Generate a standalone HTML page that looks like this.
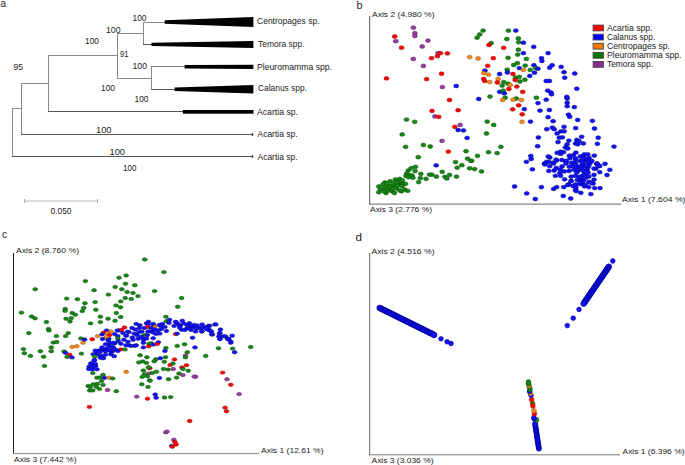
<!DOCTYPE html>
<html><head><meta charset="utf-8">
<style>
html,body{margin:0;padding:0;background:#fff;width:685px;height:465px;overflow:hidden}
svg{display:block}
text{font-family:"Liberation Sans",sans-serif;fill:#222}
.t8{font-size:8px}
.ax{font-size:7px}
.pl{font-size:11px;fill:#111}
.br{stroke:#888;stroke-width:1;fill:none}
</style></head><body>
<svg width="685" height="465" viewBox="0 0 685 465">
<line x1="12.5" y1="108" x2="12.5" y2="157.5" stroke="#8a8a8a" stroke-width="1"/>
<line x1="12" y1="108.5" x2="21.5" y2="108.5" stroke="#8a8a8a" stroke-width="1"/>
<line x1="12" y1="156.5" x2="252" y2="156.5" stroke="#555" stroke-width="1"/>
<line x1="21.5" y1="83" x2="21.5" y2="135" stroke="#8a8a8a" stroke-width="1"/>
<line x1="21" y1="83.5" x2="48.5" y2="83.5" stroke="#8a8a8a" stroke-width="1"/>
<line x1="21" y1="134.5" x2="252" y2="134.5" stroke="#555" stroke-width="1"/>
<line x1="48.5" y1="55" x2="48.5" y2="112" stroke="#8a8a8a" stroke-width="1"/>
<line x1="48" y1="55.5" x2="117.5" y2="55.5" stroke="#8a8a8a" stroke-width="1"/>
<line x1="48" y1="111.5" x2="183" y2="111.5" stroke="#555" stroke-width="1"/>
<line x1="117.5" y1="33" x2="117.5" y2="79" stroke="#8a8a8a" stroke-width="1"/>
<line x1="117" y1="33.5" x2="143.5" y2="33.5" stroke="#8a8a8a" stroke-width="1"/>
<line x1="117" y1="78.5" x2="151.5" y2="78.5" stroke="#8a8a8a" stroke-width="1"/>
<line x1="143.5" y1="22" x2="143.5" y2="45" stroke="#8a8a8a" stroke-width="1"/>
<line x1="143" y1="22.5" x2="165" y2="22.5" stroke="#8a8a8a" stroke-width="1"/>
<line x1="143" y1="44.5" x2="152" y2="44.5" stroke="#555" stroke-width="1"/>
<line x1="151.5" y1="66" x2="151.5" y2="90" stroke="#8a8a8a" stroke-width="1"/>
<line x1="151" y1="66.5" x2="185" y2="66.5" stroke="#8a8a8a" stroke-width="1"/>
<line x1="151" y1="89.5" x2="175" y2="89.5" stroke="#555" stroke-width="1"/>
<polygon points="164.7,20.3 253.4,17 253.4,27 164.7,23.8" fill="#000"/>
<polygon points="151.5,42.7 253.4,41 253.4,47.9 151.5,46" fill="#000"/>
<polygon points="184.6,64.9 253.4,64.8 253.4,69 184.6,68.6" fill="#000"/>
<polygon points="174.6,87.5 253.4,85 253.4,93.5 174.6,91.1" fill="#000"/>
<rect x="182.8" y="110" width="70.7" height="3.7" fill="#000"/>
<rect x="251.8" y="133" width="1.4" height="3" fill="#444"/>
<rect x="251.8" y="155" width="1.4" height="3" fill="#444"/>
<line x1="24.5" y1="201" x2="97.5" y2="201" stroke="#cfcfcf" stroke-width="1.5"/>
<line x1="24.5" y1="199" x2="24.5" y2="203" stroke="#aaa" stroke-width="1"/>
<line x1="97.5" y1="199" x2="97.5" y2="203" stroke="#aaa" stroke-width="1"/>
<line x1="369.7" y1="16" x2="369.7" y2="204.6" stroke="#555" stroke-width="1"/>
<line x1="369.2" y1="204.1" x2="621.5" y2="204.1" stroke="#666" stroke-width="1"/>
<line x1="13.5" y1="253" x2="13.5" y2="454.1" stroke="#222" stroke-width="1"/>
<line x1="13.0" y1="453.6" x2="259.4" y2="453.6" stroke="#888" stroke-width="1"/>
<line x1="369.7" y1="253" x2="369.7" y2="455.3" stroke="#666" stroke-width="1"/>
<line x1="369.2" y1="454.8" x2="620" y2="454.8" stroke="#777" stroke-width="1"/>
<rect x="593.1" y="25.10" width="10.3" height="5.8" fill="#ff0000" stroke="#444" stroke-width="0.9"/>
<rect x="593.1" y="34.20" width="10.3" height="5.8" fill="#0000ff" stroke="#444" stroke-width="0.9"/>
<rect x="593.1" y="43.30" width="10.3" height="5.8" fill="#f87a0a" stroke="#444" stroke-width="0.9"/>
<rect x="593.1" y="52.40" width="10.3" height="5.8" fill="#087808" stroke="#444" stroke-width="0.9"/>
<rect x="593.1" y="61.50" width="10.3" height="5.8" fill="#8a2a90" stroke="#444" stroke-width="0.9"/>
<text x="132.50" y="21" font-size="9" fill="#222" textLength="14.00" lengthAdjust="spacingAndGlyphs">100</text>
<text x="106.00" y="33" font-size="9" fill="#222" textLength="14.50" lengthAdjust="spacingAndGlyphs">100</text>
<text x="85.00" y="44" font-size="9" fill="#222" textLength="14.00" lengthAdjust="spacingAndGlyphs">100</text>
<text x="120.00" y="57" font-size="9" fill="#222" textLength="8.50" lengthAdjust="spacingAndGlyphs">91</text>
<text x="132.50" y="69" font-size="9" fill="#222" textLength="14.50" lengthAdjust="spacingAndGlyphs">100</text>
<text x="13.50" y="70" font-size="9" fill="#222" textLength="9.50" lengthAdjust="spacingAndGlyphs">95</text>
<text x="101.00" y="91" font-size="9" fill="#222" textLength="14.00" lengthAdjust="spacingAndGlyphs">100</text>
<text x="134.50" y="102" font-size="9" fill="#222" textLength="14.00" lengthAdjust="spacingAndGlyphs">100</text>
<text x="96.00" y="133" font-size="9" fill="#222" textLength="15.50" lengthAdjust="spacingAndGlyphs">100</text>
<text x="109.50" y="155" font-size="9" fill="#222" textLength="15.50" lengthAdjust="spacingAndGlyphs">100</text>
<text x="123.00" y="171" font-size="9" fill="#222" textLength="13.50" lengthAdjust="spacingAndGlyphs">100</text>
<text x="50.50" y="214" font-size="9" fill="#222" textLength="21.00" lengthAdjust="spacingAndGlyphs">0.050</text>
<text x="257.00" y="24" font-size="9" fill="#222" textLength="62.50" lengthAdjust="spacingAndGlyphs">Centropages sp.</text>
<text x="258.00" y="47" font-size="9" fill="#222" textLength="46.50" lengthAdjust="spacingAndGlyphs">Temora spp.</text>
<text x="257.00" y="70" font-size="9" fill="#222" textLength="75.00" lengthAdjust="spacingAndGlyphs">Pleuromamma spp.</text>
<text x="258.00" y="91" font-size="9" fill="#222" textLength="49.00" lengthAdjust="spacingAndGlyphs">Calanus spp.</text>
<text x="257.00" y="115" font-size="9" fill="#222" textLength="41.00" lengthAdjust="spacingAndGlyphs">Acartia sp.</text>
<text x="257.50" y="137" font-size="9" fill="#222" textLength="40.00" lengthAdjust="spacingAndGlyphs">Acartia sp.</text>
<text x="257.50" y="160" font-size="9" fill="#222" textLength="40.00" lengthAdjust="spacingAndGlyphs">Acartia sp.</text>
<text x="0.50" y="7" font-size="11.5" fill="#111" textLength="5.50" lengthAdjust="spacingAndGlyphs">a</text>
<text x="356.50" y="9" font-size="11.5" fill="#111" textLength="6.00" lengthAdjust="spacingAndGlyphs">b</text>
<text x="2.00" y="238" font-size="11.5" fill="#111" textLength="5.00" lengthAdjust="spacingAndGlyphs">c</text>
<text x="355.50" y="241" font-size="11.5" fill="#111" textLength="6.50" lengthAdjust="spacingAndGlyphs">d</text>
<text x="372.00" y="17" font-size="8" fill="#222" textLength="62.50" lengthAdjust="spacingAndGlyphs">Axis 2 (4.980 %)</text>
<text x="370.00" y="212" font-size="8" fill="#222" textLength="62.00" lengthAdjust="spacingAndGlyphs">Axis 3 (2.776 %)</text>
<text x="622.00" y="202" font-size="8" fill="#222" textLength="63.50" lengthAdjust="spacingAndGlyphs">Axis 1 (7.604 %)</text>
<text x="16.00" y="253" font-size="8" fill="#222" textLength="63.00" lengthAdjust="spacingAndGlyphs">Axis 2 (8.760 %)</text>
<text x="14.00" y="462" font-size="8" fill="#222" textLength="62.50" lengthAdjust="spacingAndGlyphs">Axis 3 (7.442 %)</text>
<text x="261.00" y="453" font-size="8" fill="#222" textLength="62.50" lengthAdjust="spacingAndGlyphs">Axis 1 (12.61 %)</text>
<text x="371.50" y="254" font-size="8" fill="#222" textLength="63.00" lengthAdjust="spacingAndGlyphs">Axis 2 (4.516 %)</text>
<text x="371.50" y="463" font-size="8" fill="#222" textLength="62.00" lengthAdjust="spacingAndGlyphs">Axis 3 (3.036 %)</text>
<text x="622.50" y="454" font-size="8" fill="#222" textLength="62.00" lengthAdjust="spacingAndGlyphs">Axis 1 (6.396 %)</text>
<text x="607.00" y="31" font-size="8.6" fill="#222" textLength="45.50" lengthAdjust="spacingAndGlyphs">Acartia spp.</text>
<text x="607.00" y="40" font-size="8.6" fill="#222" textLength="48.00" lengthAdjust="spacingAndGlyphs">Calanus spp.</text>
<text x="607.00" y="49" font-size="8.6" fill="#222" textLength="63.00" lengthAdjust="spacingAndGlyphs">Centropages sp.</text>
<text x="607.00" y="58" font-size="8.6" fill="#222" textLength="74.50" lengthAdjust="spacingAndGlyphs">Pleuromamma spp.</text>
<text x="607.00" y="67" font-size="8.6" fill="#222" textLength="46.00" lengthAdjust="spacingAndGlyphs">Temora spp.</text>
<ellipse cx="380.5" cy="189.5" rx="2.5" ry="1.9" fill="#148a14" stroke="#064806" stroke-width="0.5"/>
<ellipse cx="391.9" cy="191.3" rx="2.5" ry="1.9" fill="#148a14" stroke="#064806" stroke-width="0.5"/>
<ellipse cx="396.3" cy="188.6" rx="2.5" ry="1.9" fill="#148a14" stroke="#064806" stroke-width="0.5"/>
<ellipse cx="401.5" cy="191.3" rx="2.5" ry="1.9" fill="#148a14" stroke="#064806" stroke-width="0.5"/>
<ellipse cx="384.9" cy="182.5" rx="2.5" ry="1.9" fill="#148a14" stroke="#064806" stroke-width="0.5"/>
<ellipse cx="399.8" cy="182.5" rx="2.5" ry="1.9" fill="#148a14" stroke="#064806" stroke-width="0.5"/>
<ellipse cx="393.6" cy="185.5" rx="2.5" ry="1.9" fill="#148a14" stroke="#064806" stroke-width="0.5"/>
<ellipse cx="389.3" cy="187.5" rx="2.5" ry="1.9" fill="#148a14" stroke="#064806" stroke-width="0.5"/>
<ellipse cx="408.5" cy="170.3" rx="2.5" ry="1.9" fill="#148a14" stroke="#064806" stroke-width="0.5"/>
<ellipse cx="410.3" cy="175.5" rx="2.5" ry="1.9" fill="#148a14" stroke="#064806" stroke-width="0.5"/>
<ellipse cx="386.0" cy="193.0" rx="2.5" ry="1.9" fill="#148a14" stroke="#064806" stroke-width="0.5"/>
<ellipse cx="403.0" cy="184.0" rx="2.5" ry="1.9" fill="#148a14" stroke="#064806" stroke-width="0.5"/>
<ellipse cx="575.5" cy="158.5" rx="2.5" ry="1.9" fill="#1212f8" stroke="#008" stroke-width="0.5"/>
<ellipse cx="579.0" cy="170.0" rx="2.5" ry="1.9" fill="#1212f8" stroke="#008" stroke-width="0.5"/>
<ellipse cx="573.0" cy="166.0" rx="2.5" ry="1.9" fill="#1212f8" stroke="#008" stroke-width="0.5"/>
<ellipse cx="590.0" cy="163.0" rx="2.5" ry="1.9" fill="#1212f8" stroke="#008" stroke-width="0.5"/>
<ellipse cx="587.5" cy="169.0" rx="2.5" ry="1.9" fill="#1212f8" stroke="#008" stroke-width="0.5"/>
<ellipse cx="556.5" cy="160.5" rx="2.5" ry="1.9" fill="#1212f8" stroke="#008" stroke-width="0.5"/>
<ellipse cx="566.0" cy="161.5" rx="2.5" ry="1.9" fill="#1212f8" stroke="#008" stroke-width="0.5"/>
<ellipse cx="549.8" cy="157.5" rx="2.5" ry="1.9" fill="#1212f8" stroke="#008" stroke-width="0.5"/>
<ellipse cx="576.6" cy="167.0" rx="2.5" ry="1.9" fill="#1212f8" stroke="#008" stroke-width="0.5"/>
<ellipse cx="583.0" cy="165.0" rx="2.5" ry="1.9" fill="#1212f8" stroke="#008" stroke-width="0.5"/>
<ellipse cx="562.0" cy="166.5" rx="2.5" ry="1.9" fill="#1212f8" stroke="#008" stroke-width="0.5"/>
<ellipse cx="570.0" cy="158.0" rx="2.5" ry="1.9" fill="#1212f8" stroke="#008" stroke-width="0.5"/>
<ellipse cx="568.5" cy="184.5" rx="2.5" ry="1.9" fill="#1212f8" stroke="#008" stroke-width="0.5"/>
<ellipse cx="573.0" cy="186.0" rx="2.5" ry="1.9" fill="#1212f8" stroke="#008" stroke-width="0.5"/>
<ellipse cx="580.0" cy="184.0" rx="2.5" ry="1.9" fill="#1212f8" stroke="#008" stroke-width="0.5"/>
<ellipse cx="585.0" cy="185.5" rx="2.5" ry="1.9" fill="#1212f8" stroke="#008" stroke-width="0.5"/>
<ellipse cx="571.0" cy="181.0" rx="2.5" ry="1.9" fill="#1212f8" stroke="#008" stroke-width="0.5"/>
<ellipse cx="582.0" cy="180.0" rx="2.5" ry="1.9" fill="#1212f8" stroke="#008" stroke-width="0.5"/>
<ellipse cx="597.0" cy="163.9" rx="2.5" ry="1.9" fill="#1212f8" stroke="#008" stroke-width="0.5"/>
<ellipse cx="599.0" cy="166.0" rx="2.5" ry="1.9" fill="#1212f8" stroke="#008" stroke-width="0.5"/>
<ellipse cx="595.8" cy="168.7" rx="2.5" ry="1.9" fill="#1212f8" stroke="#008" stroke-width="0.5"/>
<ellipse cx="413.4" cy="27.7" rx="2.5" ry="1.9" fill="#9c3ca6" stroke="#4a1a50" stroke-width="0.5"/>
<ellipse cx="414.9" cy="33.1" rx="2.5" ry="1.9" fill="#9c3ca6" stroke="#4a1a50" stroke-width="0.5"/>
<ellipse cx="414.9" cy="36.0" rx="2.5" ry="1.9" fill="#9c3ca6" stroke="#4a1a50" stroke-width="0.5"/>
<ellipse cx="394.7" cy="36.5" rx="2.5" ry="1.9" fill="#ff0000" stroke="#900" stroke-width="0.5"/>
<ellipse cx="395.8" cy="41.2" rx="2.5" ry="1.9" fill="#9c3ca6" stroke="#4a1a50" stroke-width="0.5"/>
<ellipse cx="428.0" cy="40.6" rx="2.5" ry="1.9" fill="#9c3ca6" stroke="#4a1a50" stroke-width="0.5"/>
<ellipse cx="401.6" cy="47.7" rx="2.5" ry="1.9" fill="#ff0000" stroke="#900" stroke-width="0.5"/>
<ellipse cx="422.2" cy="46.5" rx="2.5" ry="1.9" fill="#9c3ca6" stroke="#4a1a50" stroke-width="0.5"/>
<ellipse cx="438.0" cy="53.1" rx="2.5" ry="1.9" fill="#9c3ca6" stroke="#4a1a50" stroke-width="0.5"/>
<ellipse cx="440.5" cy="53.1" rx="2.5" ry="1.9" fill="#ff0000" stroke="#900" stroke-width="0.5"/>
<ellipse cx="447.4" cy="53.4" rx="2.5" ry="1.9" fill="#ff0000" stroke="#900" stroke-width="0.5"/>
<ellipse cx="437.4" cy="56.2" rx="2.5" ry="1.9" fill="#ff0000" stroke="#900" stroke-width="0.5"/>
<ellipse cx="431.5" cy="58.1" rx="2.5" ry="1.9" fill="#ff0000" stroke="#900" stroke-width="0.5"/>
<ellipse cx="413.3" cy="58.9" rx="2.5" ry="1.9" fill="#9c3ca6" stroke="#4a1a50" stroke-width="0.5"/>
<ellipse cx="423.4" cy="65.9" rx="2.5" ry="1.9" fill="#9c3ca6" stroke="#4a1a50" stroke-width="0.5"/>
<ellipse cx="483.1" cy="30.6" rx="2.5" ry="1.9" fill="#148a14" stroke="#064806" stroke-width="0.5"/>
<ellipse cx="479.7" cy="34.4" rx="2.5" ry="1.9" fill="#148a14" stroke="#064806" stroke-width="0.5"/>
<ellipse cx="477.1" cy="37.7" rx="2.5" ry="1.9" fill="#148a14" stroke="#064806" stroke-width="0.5"/>
<ellipse cx="508.4" cy="30.6" rx="2.5" ry="1.9" fill="#148a14" stroke="#064806" stroke-width="0.5"/>
<ellipse cx="515.8" cy="30.6" rx="2.5" ry="1.9" fill="#1212f8" stroke="#008" stroke-width="0.5"/>
<ellipse cx="506.8" cy="39.0" rx="2.5" ry="1.9" fill="#148a14" stroke="#064806" stroke-width="0.5"/>
<ellipse cx="518.4" cy="38.3" rx="2.5" ry="1.9" fill="#148a14" stroke="#064806" stroke-width="0.5"/>
<ellipse cx="518.7" cy="42.2" rx="2.5" ry="1.9" fill="#148a14" stroke="#064806" stroke-width="0.5"/>
<ellipse cx="523.4" cy="42.7" rx="2.5" ry="1.9" fill="#1212f8" stroke="#008" stroke-width="0.5"/>
<ellipse cx="533.7" cy="46.8" rx="2.5" ry="1.9" fill="#1212f8" stroke="#008" stroke-width="0.5"/>
<ellipse cx="491.2" cy="43.1" rx="2.5" ry="1.9" fill="#148a14" stroke="#064806" stroke-width="0.5"/>
<ellipse cx="489.0" cy="45.0" rx="2.5" ry="1.9" fill="#ff0000" stroke="#900" stroke-width="0.5"/>
<ellipse cx="503.7" cy="47.8" rx="2.5" ry="1.9" fill="#ff0000" stroke="#900" stroke-width="0.5"/>
<ellipse cx="518.4" cy="49.7" rx="2.5" ry="1.9" fill="#148a14" stroke="#064806" stroke-width="0.5"/>
<ellipse cx="523.4" cy="53.1" rx="2.5" ry="1.9" fill="#1212f8" stroke="#008" stroke-width="0.5"/>
<ellipse cx="517.7" cy="54.6" rx="2.5" ry="1.9" fill="#148a14" stroke="#064806" stroke-width="0.5"/>
<ellipse cx="469.6" cy="57.1" rx="2.5" ry="1.9" fill="#f68a1e" stroke="#8a4a08" stroke-width="0.5"/>
<ellipse cx="478.1" cy="58.4" rx="2.5" ry="1.9" fill="#f68a1e" stroke="#8a4a08" stroke-width="0.5"/>
<ellipse cx="493.3" cy="58.1" rx="2.5" ry="1.9" fill="#ff0000" stroke="#900" stroke-width="0.5"/>
<ellipse cx="508.1" cy="57.8" rx="2.5" ry="1.9" fill="#148a14" stroke="#064806" stroke-width="0.5"/>
<ellipse cx="526.4" cy="58.9" rx="2.5" ry="1.9" fill="#148a14" stroke="#064806" stroke-width="0.5"/>
<ellipse cx="487.7" cy="65.8" rx="2.5" ry="1.9" fill="#ff0000" stroke="#900" stroke-width="0.5"/>
<ellipse cx="513.7" cy="65.0" rx="2.5" ry="1.9" fill="#148a14" stroke="#064806" stroke-width="0.5"/>
<ellipse cx="517.4" cy="63.1" rx="2.5" ry="1.9" fill="#148a14" stroke="#064806" stroke-width="0.5"/>
<ellipse cx="519.3" cy="68.1" rx="2.5" ry="1.9" fill="#1212f8" stroke="#008" stroke-width="0.5"/>
<ellipse cx="525.2" cy="65.6" rx="2.5" ry="1.9" fill="#148a14" stroke="#064806" stroke-width="0.5"/>
<ellipse cx="533.9" cy="65.2" rx="2.5" ry="1.9" fill="#1212f8" stroke="#008" stroke-width="0.5"/>
<ellipse cx="535.5" cy="68.1" rx="2.5" ry="1.9" fill="#148a14" stroke="#064806" stroke-width="0.5"/>
<ellipse cx="538.0" cy="68.7" rx="2.5" ry="1.9" fill="#1212f8" stroke="#008" stroke-width="0.5"/>
<ellipse cx="523.4" cy="69.9" rx="2.5" ry="1.9" fill="#f68a1e" stroke="#8a4a08" stroke-width="0.5"/>
<ellipse cx="530.2" cy="69.9" rx="2.5" ry="1.9" fill="#148a14" stroke="#064806" stroke-width="0.5"/>
<ellipse cx="507.2" cy="69.7" rx="2.5" ry="1.9" fill="#148a14" stroke="#064806" stroke-width="0.5"/>
<ellipse cx="485.0" cy="70.6" rx="2.5" ry="1.9" fill="#1212f8" stroke="#008" stroke-width="0.5"/>
<ellipse cx="548.1" cy="53.1" rx="2.5" ry="1.9" fill="#1212f8" stroke="#008" stroke-width="0.5"/>
<ellipse cx="541.5" cy="58.1" rx="2.5" ry="1.9" fill="#1212f8" stroke="#008" stroke-width="0.5"/>
<ellipse cx="541.9" cy="61.0" rx="2.5" ry="1.9" fill="#1212f8" stroke="#008" stroke-width="0.5"/>
<ellipse cx="552.1" cy="65.2" rx="2.5" ry="1.9" fill="#1212f8" stroke="#008" stroke-width="0.5"/>
<ellipse cx="549.7" cy="67.7" rx="2.5" ry="1.9" fill="#1212f8" stroke="#008" stroke-width="0.5"/>
<ellipse cx="561.2" cy="66.8" rx="2.5" ry="1.9" fill="#1212f8" stroke="#008" stroke-width="0.5"/>
<ellipse cx="386.5" cy="78.4" rx="2.5" ry="1.9" fill="#ff0000" stroke="#900" stroke-width="0.5"/>
<ellipse cx="426.6" cy="79.1" rx="2.5" ry="1.9" fill="#ff0000" stroke="#900" stroke-width="0.5"/>
<ellipse cx="441.5" cy="73.7" rx="2.5" ry="1.9" fill="#ff0000" stroke="#900" stroke-width="0.5"/>
<ellipse cx="442.4" cy="87.1" rx="2.5" ry="1.9" fill="#9c3ca6" stroke="#4a1a50" stroke-width="0.5"/>
<ellipse cx="449.5" cy="100.0" rx="2.5" ry="1.9" fill="#ff0000" stroke="#900" stroke-width="0.5"/>
<ellipse cx="432.0" cy="110.8" rx="2.5" ry="1.9" fill="#ff0000" stroke="#900" stroke-width="0.5"/>
<ellipse cx="434.9" cy="116.4" rx="2.5" ry="1.9" fill="#9c3ca6" stroke="#4a1a50" stroke-width="0.5"/>
<ellipse cx="438.7" cy="116.8" rx="2.5" ry="1.9" fill="#ff0000" stroke="#900" stroke-width="0.5"/>
<ellipse cx="406.5" cy="119.6" rx="2.5" ry="1.9" fill="#148a14" stroke="#064806" stroke-width="0.5"/>
<ellipse cx="414.7" cy="121.8" rx="2.5" ry="1.9" fill="#148a14" stroke="#064806" stroke-width="0.5"/>
<ellipse cx="483.7" cy="73.1" rx="2.5" ry="1.9" fill="#f68a1e" stroke="#8a4a08" stroke-width="0.5"/>
<ellipse cx="488.5" cy="74.6" rx="2.5" ry="1.9" fill="#f68a1e" stroke="#8a4a08" stroke-width="0.5"/>
<ellipse cx="499.6" cy="74.0" rx="2.5" ry="1.9" fill="#1212f8" stroke="#008" stroke-width="0.5"/>
<ellipse cx="507.4" cy="72.5" rx="2.5" ry="1.9" fill="#1212f8" stroke="#008" stroke-width="0.5"/>
<ellipse cx="513.0" cy="74.0" rx="2.5" ry="1.9" fill="#ff0000" stroke="#900" stroke-width="0.5"/>
<ellipse cx="534.5" cy="72.7" rx="2.5" ry="1.9" fill="#1212f8" stroke="#008" stroke-width="0.5"/>
<ellipse cx="529.7" cy="75.9" rx="2.5" ry="1.9" fill="#1212f8" stroke="#008" stroke-width="0.5"/>
<ellipse cx="483.7" cy="79.0" rx="2.5" ry="1.9" fill="#ff0000" stroke="#900" stroke-width="0.5"/>
<ellipse cx="484.7" cy="80.9" rx="2.5" ry="1.9" fill="#ff0000" stroke="#900" stroke-width="0.5"/>
<ellipse cx="489.7" cy="82.1" rx="2.5" ry="1.9" fill="#f68a1e" stroke="#8a4a08" stroke-width="0.5"/>
<ellipse cx="498.1" cy="79.0" rx="2.5" ry="1.9" fill="#f68a1e" stroke="#8a4a08" stroke-width="0.5"/>
<ellipse cx="497.4" cy="82.5" rx="2.5" ry="1.9" fill="#ff0000" stroke="#900" stroke-width="0.5"/>
<ellipse cx="503.7" cy="82.1" rx="2.5" ry="1.9" fill="#148a14" stroke="#064806" stroke-width="0.5"/>
<ellipse cx="502.2" cy="85.6" rx="2.5" ry="1.9" fill="#148a14" stroke="#064806" stroke-width="0.5"/>
<ellipse cx="508.1" cy="83.7" rx="2.5" ry="1.9" fill="#148a14" stroke="#064806" stroke-width="0.5"/>
<ellipse cx="510.2" cy="85.0" rx="2.5" ry="1.9" fill="#f68a1e" stroke="#8a4a08" stroke-width="0.5"/>
<ellipse cx="515.5" cy="77.7" rx="2.5" ry="1.9" fill="#148a14" stroke="#064806" stroke-width="0.5"/>
<ellipse cx="519.3" cy="76.9" rx="2.5" ry="1.9" fill="#148a14" stroke="#064806" stroke-width="0.5"/>
<ellipse cx="515.2" cy="80.0" rx="2.5" ry="1.9" fill="#ff0000" stroke="#900" stroke-width="0.5"/>
<ellipse cx="519.9" cy="81.5" rx="2.5" ry="1.9" fill="#148a14" stroke="#064806" stroke-width="0.5"/>
<ellipse cx="524.9" cy="79.7" rx="2.5" ry="1.9" fill="#148a14" stroke="#064806" stroke-width="0.5"/>
<ellipse cx="516.8" cy="86.6" rx="2.5" ry="1.9" fill="#ff0000" stroke="#900" stroke-width="0.5"/>
<ellipse cx="508.9" cy="89.0" rx="2.5" ry="1.9" fill="#ff0000" stroke="#900" stroke-width="0.5"/>
<ellipse cx="522.7" cy="91.8" rx="2.5" ry="1.9" fill="#ff0000" stroke="#900" stroke-width="0.5"/>
<ellipse cx="499.6" cy="91.8" rx="2.5" ry="1.9" fill="#1212f8" stroke="#008" stroke-width="0.5"/>
<ellipse cx="503.1" cy="90.6" rx="2.5" ry="1.9" fill="#148a14" stroke="#064806" stroke-width="0.5"/>
<ellipse cx="504.3" cy="93.3" rx="2.5" ry="1.9" fill="#1212f8" stroke="#008" stroke-width="0.5"/>
<ellipse cx="456.2" cy="86.0" rx="2.5" ry="1.9" fill="#1212f8" stroke="#008" stroke-width="0.5"/>
<ellipse cx="478.7" cy="99.0" rx="2.5" ry="1.9" fill="#1212f8" stroke="#008" stroke-width="0.5"/>
<ellipse cx="490.0" cy="96.6" rx="2.5" ry="1.9" fill="#148a14" stroke="#064806" stroke-width="0.5"/>
<ellipse cx="505.2" cy="97.7" rx="2.5" ry="1.9" fill="#148a14" stroke="#064806" stroke-width="0.5"/>
<ellipse cx="502.7" cy="100.0" rx="2.5" ry="1.9" fill="#f68a1e" stroke="#8a4a08" stroke-width="0.5"/>
<ellipse cx="516.2" cy="98.5" rx="2.5" ry="1.9" fill="#148a14" stroke="#064806" stroke-width="0.5"/>
<ellipse cx="513.0" cy="99.7" rx="2.5" ry="1.9" fill="#f68a1e" stroke="#8a4a08" stroke-width="0.5"/>
<ellipse cx="521.4" cy="100.0" rx="2.5" ry="1.9" fill="#f68a1e" stroke="#8a4a08" stroke-width="0.5"/>
<ellipse cx="536.4" cy="97.7" rx="2.5" ry="1.9" fill="#148a14" stroke="#064806" stroke-width="0.5"/>
<ellipse cx="538.0" cy="103.1" rx="2.5" ry="1.9" fill="#1212f8" stroke="#008" stroke-width="0.5"/>
<ellipse cx="518.7" cy="105.3" rx="2.5" ry="1.9" fill="#ff0000" stroke="#900" stroke-width="0.5"/>
<ellipse cx="512.7" cy="109.3" rx="2.5" ry="1.9" fill="#ff0000" stroke="#900" stroke-width="0.5"/>
<ellipse cx="524.3" cy="109.1" rx="2.5" ry="1.9" fill="#1212f8" stroke="#008" stroke-width="0.5"/>
<ellipse cx="540.0" cy="110.6" rx="2.5" ry="1.9" fill="#1212f8" stroke="#008" stroke-width="0.5"/>
<ellipse cx="522.2" cy="114.3" rx="2.5" ry="1.9" fill="#ff0000" stroke="#900" stroke-width="0.5"/>
<ellipse cx="458.1" cy="110.2" rx="2.5" ry="1.9" fill="#ff0000" stroke="#900" stroke-width="0.5"/>
<ellipse cx="487.2" cy="121.6" rx="2.5" ry="1.9" fill="#148a14" stroke="#064806" stroke-width="0.5"/>
<ellipse cx="493.7" cy="124.9" rx="2.5" ry="1.9" fill="#148a14" stroke="#064806" stroke-width="0.5"/>
<ellipse cx="522.0" cy="121.8" rx="2.5" ry="1.9" fill="#f68a1e" stroke="#8a4a08" stroke-width="0.5"/>
<ellipse cx="530.5" cy="121.6" rx="2.5" ry="1.9" fill="#1212f8" stroke="#008" stroke-width="0.5"/>
<ellipse cx="460.2" cy="124.9" rx="2.5" ry="1.9" fill="#9c3ca6" stroke="#4a1a50" stroke-width="0.5"/>
<ellipse cx="454.8" cy="126.8" rx="2.5" ry="1.9" fill="#ff0000" stroke="#900" stroke-width="0.5"/>
<ellipse cx="564.0" cy="72.2" rx="2.5" ry="1.9" fill="#1212f8" stroke="#008" stroke-width="0.5"/>
<ellipse cx="574.7" cy="73.5" rx="2.5" ry="1.9" fill="#1212f8" stroke="#008" stroke-width="0.5"/>
<ellipse cx="564.7" cy="77.7" rx="2.5" ry="1.9" fill="#1212f8" stroke="#008" stroke-width="0.5"/>
<ellipse cx="546.2" cy="81.0" rx="2.5" ry="1.9" fill="#1212f8" stroke="#008" stroke-width="0.5"/>
<ellipse cx="549.4" cy="81.0" rx="2.5" ry="1.9" fill="#1212f8" stroke="#008" stroke-width="0.5"/>
<ellipse cx="576.8" cy="88.7" rx="2.5" ry="1.9" fill="#1212f8" stroke="#008" stroke-width="0.5"/>
<ellipse cx="547.7" cy="90.6" rx="2.5" ry="1.9" fill="#1212f8" stroke="#008" stroke-width="0.5"/>
<ellipse cx="551.0" cy="92.5" rx="2.5" ry="1.9" fill="#1212f8" stroke="#008" stroke-width="0.5"/>
<ellipse cx="551.5" cy="94.3" rx="2.5" ry="1.9" fill="#1212f8" stroke="#008" stroke-width="0.5"/>
<ellipse cx="566.8" cy="96.8" rx="2.5" ry="1.9" fill="#1212f8" stroke="#008" stroke-width="0.5"/>
<ellipse cx="567.2" cy="98.5" rx="2.5" ry="1.9" fill="#1212f8" stroke="#008" stroke-width="0.5"/>
<ellipse cx="546.2" cy="99.7" rx="2.5" ry="1.9" fill="#1212f8" stroke="#008" stroke-width="0.5"/>
<ellipse cx="567.2" cy="102.7" rx="2.5" ry="1.9" fill="#1212f8" stroke="#008" stroke-width="0.5"/>
<ellipse cx="567.2" cy="106.2" rx="2.5" ry="1.9" fill="#1212f8" stroke="#008" stroke-width="0.5"/>
<ellipse cx="574.3" cy="107.1" rx="2.5" ry="1.9" fill="#1212f8" stroke="#008" stroke-width="0.5"/>
<ellipse cx="549.4" cy="110.0" rx="2.5" ry="1.9" fill="#1212f8" stroke="#008" stroke-width="0.5"/>
<ellipse cx="568.5" cy="114.6" rx="2.5" ry="1.9" fill="#1212f8" stroke="#008" stroke-width="0.5"/>
<ellipse cx="569.7" cy="116.8" rx="2.5" ry="1.9" fill="#1212f8" stroke="#008" stroke-width="0.5"/>
<ellipse cx="548.1" cy="117.2" rx="2.5" ry="1.9" fill="#1212f8" stroke="#008" stroke-width="0.5"/>
<ellipse cx="553.1" cy="121.2" rx="2.5" ry="1.9" fill="#1212f8" stroke="#008" stroke-width="0.5"/>
<ellipse cx="577.7" cy="119.9" rx="2.5" ry="1.9" fill="#1212f8" stroke="#008" stroke-width="0.5"/>
<ellipse cx="592.4" cy="120.8" rx="2.5" ry="1.9" fill="#1212f8" stroke="#008" stroke-width="0.5"/>
<ellipse cx="402.2" cy="134.4" rx="2.5" ry="1.9" fill="#148a14" stroke="#064806" stroke-width="0.5"/>
<ellipse cx="442.0" cy="140.9" rx="2.5" ry="1.9" fill="#9c3ca6" stroke="#4a1a50" stroke-width="0.5"/>
<ellipse cx="405.6" cy="146.8" rx="2.5" ry="1.9" fill="#148a14" stroke="#064806" stroke-width="0.5"/>
<ellipse cx="423.4" cy="145.0" rx="2.5" ry="1.9" fill="#148a14" stroke="#064806" stroke-width="0.5"/>
<ellipse cx="430.2" cy="146.5" rx="2.5" ry="1.9" fill="#148a14" stroke="#064806" stroke-width="0.5"/>
<ellipse cx="448.3" cy="151.6" rx="2.5" ry="1.9" fill="#ff0000" stroke="#900" stroke-width="0.5"/>
<ellipse cx="418.3" cy="157.2" rx="2.5" ry="1.9" fill="#148a14" stroke="#064806" stroke-width="0.5"/>
<ellipse cx="436.2" cy="165.3" rx="2.5" ry="1.9" fill="#1212f8" stroke="#008" stroke-width="0.5"/>
<ellipse cx="455.5" cy="162.1" rx="2.5" ry="1.9" fill="#148a14" stroke="#064806" stroke-width="0.5"/>
<ellipse cx="442.2" cy="171.8" rx="2.5" ry="1.9" fill="#148a14" stroke="#064806" stroke-width="0.5"/>
<ellipse cx="431.8" cy="174.7" rx="2.5" ry="1.9" fill="#148a14" stroke="#064806" stroke-width="0.5"/>
<ellipse cx="436.4" cy="176.6" rx="2.5" ry="1.9" fill="#148a14" stroke="#064806" stroke-width="0.5"/>
<ellipse cx="449.5" cy="174.9" rx="2.5" ry="1.9" fill="#148a14" stroke="#064806" stroke-width="0.5"/>
<ellipse cx="444.9" cy="176.8" rx="2.5" ry="1.9" fill="#148a14" stroke="#064806" stroke-width="0.5"/>
<ellipse cx="446.8" cy="178.4" rx="2.5" ry="1.9" fill="#148a14" stroke="#064806" stroke-width="0.5"/>
<ellipse cx="458.1" cy="130.0" rx="2.5" ry="1.9" fill="#1212f8" stroke="#008" stroke-width="0.5"/>
<ellipse cx="463.5" cy="130.4" rx="2.5" ry="1.9" fill="#1212f8" stroke="#008" stroke-width="0.5"/>
<ellipse cx="467.1" cy="137.9" rx="2.5" ry="1.9" fill="#1212f8" stroke="#008" stroke-width="0.5"/>
<ellipse cx="486.5" cy="133.5" rx="2.5" ry="1.9" fill="#148a14" stroke="#064806" stroke-width="0.5"/>
<ellipse cx="538.4" cy="137.5" rx="2.5" ry="1.9" fill="#1212f8" stroke="#008" stroke-width="0.5"/>
<ellipse cx="537.6" cy="146.2" rx="2.5" ry="1.9" fill="#1212f8" stroke="#008" stroke-width="0.5"/>
<ellipse cx="500.9" cy="146.8" rx="2.5" ry="1.9" fill="#148a14" stroke="#064806" stroke-width="0.5"/>
<ellipse cx="466.0" cy="151.2" rx="2.5" ry="1.9" fill="#148a14" stroke="#064806" stroke-width="0.5"/>
<ellipse cx="488.5" cy="152.2" rx="2.5" ry="1.9" fill="#148a14" stroke="#064806" stroke-width="0.5"/>
<ellipse cx="497.1" cy="153.1" rx="2.5" ry="1.9" fill="#148a14" stroke="#064806" stroke-width="0.5"/>
<ellipse cx="477.5" cy="155.8" rx="2.5" ry="1.9" fill="#148a14" stroke="#064806" stroke-width="0.5"/>
<ellipse cx="467.5" cy="158.7" rx="2.5" ry="1.9" fill="#148a14" stroke="#064806" stroke-width="0.5"/>
<ellipse cx="471.6" cy="160.8" rx="2.5" ry="1.9" fill="#148a14" stroke="#064806" stroke-width="0.5"/>
<ellipse cx="461.9" cy="165.2" rx="2.5" ry="1.9" fill="#148a14" stroke="#064806" stroke-width="0.5"/>
<ellipse cx="457.2" cy="167.7" rx="2.5" ry="1.9" fill="#148a14" stroke="#064806" stroke-width="0.5"/>
<ellipse cx="469.7" cy="168.3" rx="2.5" ry="1.9" fill="#148a14" stroke="#064806" stroke-width="0.5"/>
<ellipse cx="474.6" cy="169.1" rx="2.5" ry="1.9" fill="#148a14" stroke="#064806" stroke-width="0.5"/>
<ellipse cx="481.5" cy="171.4" rx="2.5" ry="1.9" fill="#148a14" stroke="#064806" stroke-width="0.5"/>
<ellipse cx="456.5" cy="176.6" rx="2.5" ry="1.9" fill="#148a14" stroke="#064806" stroke-width="0.5"/>
<ellipse cx="470.8" cy="160.8" rx="2.5" ry="1.9" fill="#148a14" stroke="#064806" stroke-width="0.5"/>
<ellipse cx="530.8" cy="156.0" rx="2.5" ry="1.9" fill="#1212f8" stroke="#008" stroke-width="0.5"/>
<ellipse cx="531.2" cy="159.0" rx="2.5" ry="1.9" fill="#1212f8" stroke="#008" stroke-width="0.5"/>
<ellipse cx="526.4" cy="161.8" rx="2.5" ry="1.9" fill="#1212f8" stroke="#008" stroke-width="0.5"/>
<ellipse cx="532.4" cy="169.3" rx="2.5" ry="1.9" fill="#1212f8" stroke="#008" stroke-width="0.5"/>
<ellipse cx="546.8" cy="129.2" rx="2.5" ry="1.9" fill="#1212f8" stroke="#008" stroke-width="0.5"/>
<ellipse cx="552.3" cy="127.6" rx="2.5" ry="1.9" fill="#1212f8" stroke="#008" stroke-width="0.5"/>
<ellipse cx="554.2" cy="129.2" rx="2.5" ry="1.9" fill="#1212f8" stroke="#008" stroke-width="0.5"/>
<ellipse cx="564.1" cy="126.8" rx="2.5" ry="1.9" fill="#1212f8" stroke="#008" stroke-width="0.5"/>
<ellipse cx="575.7" cy="128.1" rx="2.5" ry="1.9" fill="#1212f8" stroke="#008" stroke-width="0.5"/>
<ellipse cx="594.5" cy="128.5" rx="2.5" ry="1.9" fill="#1212f8" stroke="#008" stroke-width="0.5"/>
<ellipse cx="561.0" cy="131.3" rx="2.5" ry="1.9" fill="#1212f8" stroke="#008" stroke-width="0.5"/>
<ellipse cx="564.1" cy="131.3" rx="2.5" ry="1.9" fill="#1212f8" stroke="#008" stroke-width="0.5"/>
<ellipse cx="557.1" cy="133.5" rx="2.5" ry="1.9" fill="#1212f8" stroke="#008" stroke-width="0.5"/>
<ellipse cx="559.3" cy="137.7" rx="2.5" ry="1.9" fill="#1212f8" stroke="#008" stroke-width="0.5"/>
<ellipse cx="562.3" cy="137.3" rx="2.5" ry="1.9" fill="#1212f8" stroke="#008" stroke-width="0.5"/>
<ellipse cx="558.0" cy="142.1" rx="2.5" ry="1.9" fill="#1212f8" stroke="#008" stroke-width="0.5"/>
<ellipse cx="568.9" cy="140.6" rx="2.5" ry="1.9" fill="#1212f8" stroke="#008" stroke-width="0.5"/>
<ellipse cx="567.1" cy="144.3" rx="2.5" ry="1.9" fill="#1212f8" stroke="#008" stroke-width="0.5"/>
<ellipse cx="565.4" cy="147.3" rx="2.5" ry="1.9" fill="#1212f8" stroke="#008" stroke-width="0.5"/>
<ellipse cx="567.8" cy="148.5" rx="2.5" ry="1.9" fill="#1212f8" stroke="#008" stroke-width="0.5"/>
<ellipse cx="581.6" cy="136.8" rx="2.5" ry="1.9" fill="#1212f8" stroke="#008" stroke-width="0.5"/>
<ellipse cx="576.8" cy="139.9" rx="2.5" ry="1.9" fill="#1212f8" stroke="#008" stroke-width="0.5"/>
<ellipse cx="579.0" cy="141.2" rx="2.5" ry="1.9" fill="#1212f8" stroke="#008" stroke-width="0.5"/>
<ellipse cx="575.5" cy="143.4" rx="2.5" ry="1.9" fill="#1212f8" stroke="#008" stroke-width="0.5"/>
<ellipse cx="577.7" cy="144.3" rx="2.5" ry="1.9" fill="#1212f8" stroke="#008" stroke-width="0.5"/>
<ellipse cx="583.3" cy="143.4" rx="2.5" ry="1.9" fill="#1212f8" stroke="#008" stroke-width="0.5"/>
<ellipse cx="598.2" cy="137.7" rx="2.5" ry="1.9" fill="#1212f8" stroke="#008" stroke-width="0.5"/>
<ellipse cx="597.4" cy="143.8" rx="2.5" ry="1.9" fill="#1212f8" stroke="#008" stroke-width="0.5"/>
<ellipse cx="557.1" cy="152.8" rx="2.5" ry="1.9" fill="#1212f8" stroke="#008" stroke-width="0.5"/>
<ellipse cx="560.6" cy="151.7" rx="2.5" ry="1.9" fill="#1212f8" stroke="#008" stroke-width="0.5"/>
<ellipse cx="563.6" cy="152.1" rx="2.5" ry="1.9" fill="#1212f8" stroke="#008" stroke-width="0.5"/>
<ellipse cx="560.6" cy="153.9" rx="2.5" ry="1.9" fill="#1212f8" stroke="#008" stroke-width="0.5"/>
<ellipse cx="548.3" cy="156.5" rx="2.5" ry="1.9" fill="#1212f8" stroke="#008" stroke-width="0.5"/>
<ellipse cx="569.3" cy="155.6" rx="2.5" ry="1.9" fill="#1212f8" stroke="#008" stroke-width="0.5"/>
<ellipse cx="575.9" cy="152.6" rx="2.5" ry="1.9" fill="#1212f8" stroke="#008" stroke-width="0.5"/>
<ellipse cx="573.3" cy="155.2" rx="2.5" ry="1.9" fill="#1212f8" stroke="#008" stroke-width="0.5"/>
<ellipse cx="584.2" cy="154.3" rx="2.5" ry="1.9" fill="#1212f8" stroke="#008" stroke-width="0.5"/>
<ellipse cx="587.7" cy="154.3" rx="2.5" ry="1.9" fill="#1212f8" stroke="#008" stroke-width="0.5"/>
<ellipse cx="594.3" cy="155.6" rx="2.5" ry="1.9" fill="#1212f8" stroke="#008" stroke-width="0.5"/>
<ellipse cx="580.3" cy="156.5" rx="2.5" ry="1.9" fill="#1212f8" stroke="#008" stroke-width="0.5"/>
<ellipse cx="583.8" cy="157.4" rx="2.5" ry="1.9" fill="#1212f8" stroke="#008" stroke-width="0.5"/>
<ellipse cx="589.0" cy="157.8" rx="2.5" ry="1.9" fill="#1212f8" stroke="#008" stroke-width="0.5"/>
<ellipse cx="546.6" cy="161.8" rx="2.5" ry="1.9" fill="#1212f8" stroke="#008" stroke-width="0.5"/>
<ellipse cx="544.4" cy="163.5" rx="2.5" ry="1.9" fill="#1212f8" stroke="#008" stroke-width="0.5"/>
<ellipse cx="556.2" cy="159.6" rx="2.5" ry="1.9" fill="#1212f8" stroke="#008" stroke-width="0.5"/>
<ellipse cx="561.9" cy="160.0" rx="2.5" ry="1.9" fill="#1212f8" stroke="#008" stroke-width="0.5"/>
<ellipse cx="566.3" cy="160.9" rx="2.5" ry="1.9" fill="#1212f8" stroke="#008" stroke-width="0.5"/>
<ellipse cx="575.5" cy="160.0" rx="2.5" ry="1.9" fill="#1212f8" stroke="#008" stroke-width="0.5"/>
<ellipse cx="580.3" cy="160.9" rx="2.5" ry="1.9" fill="#1212f8" stroke="#008" stroke-width="0.5"/>
<ellipse cx="586.4" cy="160.0" rx="2.5" ry="1.9" fill="#1212f8" stroke="#008" stroke-width="0.5"/>
<ellipse cx="591.7" cy="160.9" rx="2.5" ry="1.9" fill="#1212f8" stroke="#008" stroke-width="0.5"/>
<ellipse cx="596.9" cy="163.5" rx="2.5" ry="1.9" fill="#1212f8" stroke="#008" stroke-width="0.5"/>
<ellipse cx="553.1" cy="162.7" rx="2.5" ry="1.9" fill="#1212f8" stroke="#008" stroke-width="0.5"/>
<ellipse cx="571.5" cy="162.7" rx="2.5" ry="1.9" fill="#1212f8" stroke="#008" stroke-width="0.5"/>
<ellipse cx="614.0" cy="146.6" rx="2.5" ry="1.9" fill="#1212f8" stroke="#008" stroke-width="0.5"/>
<ellipse cx="591.4" cy="160.8" rx="2.5" ry="1.9" fill="#1212f8" stroke="#008" stroke-width="0.5"/>
<ellipse cx="597.1" cy="163.8" rx="2.5" ry="1.9" fill="#1212f8" stroke="#008" stroke-width="0.5"/>
<ellipse cx="599.7" cy="166.0" rx="2.5" ry="1.9" fill="#1212f8" stroke="#008" stroke-width="0.5"/>
<ellipse cx="605.0" cy="163.8" rx="2.5" ry="1.9" fill="#1212f8" stroke="#008" stroke-width="0.5"/>
<ellipse cx="609.8" cy="169.8" rx="2.5" ry="1.9" fill="#1212f8" stroke="#008" stroke-width="0.5"/>
<ellipse cx="594.0" cy="174.8" rx="2.5" ry="1.9" fill="#1212f8" stroke="#008" stroke-width="0.5"/>
<ellipse cx="599.7" cy="172.1" rx="2.5" ry="1.9" fill="#1212f8" stroke="#008" stroke-width="0.5"/>
<ellipse cx="607.0" cy="175.0" rx="2.5" ry="1.9" fill="#1212f8" stroke="#008" stroke-width="0.5"/>
<ellipse cx="594.0" cy="179.6" rx="2.5" ry="1.9" fill="#1212f8" stroke="#008" stroke-width="0.5"/>
<ellipse cx="593.1" cy="183.5" rx="2.5" ry="1.9" fill="#1212f8" stroke="#008" stroke-width="0.5"/>
<ellipse cx="582.6" cy="160.8" rx="2.5" ry="1.9" fill="#1212f8" stroke="#008" stroke-width="0.5"/>
<ellipse cx="585.3" cy="166.0" rx="2.5" ry="1.9" fill="#1212f8" stroke="#008" stroke-width="0.5"/>
<ellipse cx="581.8" cy="168.6" rx="2.5" ry="1.9" fill="#1212f8" stroke="#008" stroke-width="0.5"/>
<ellipse cx="588.8" cy="166.0" rx="2.5" ry="1.9" fill="#1212f8" stroke="#008" stroke-width="0.5"/>
<ellipse cx="594.0" cy="168.6" rx="2.5" ry="1.9" fill="#1212f8" stroke="#008" stroke-width="0.5"/>
<ellipse cx="585.3" cy="173.0" rx="2.5" ry="1.9" fill="#1212f8" stroke="#008" stroke-width="0.5"/>
<ellipse cx="588.8" cy="176.5" rx="2.5" ry="1.9" fill="#1212f8" stroke="#008" stroke-width="0.5"/>
<ellipse cx="582.6" cy="175.6" rx="2.5" ry="1.9" fill="#1212f8" stroke="#008" stroke-width="0.5"/>
<ellipse cx="583.5" cy="180.0" rx="2.5" ry="1.9" fill="#1212f8" stroke="#008" stroke-width="0.5"/>
<ellipse cx="588.8" cy="181.8" rx="2.5" ry="1.9" fill="#1212f8" stroke="#008" stroke-width="0.5"/>
<ellipse cx="581.8" cy="182.7" rx="2.5" ry="1.9" fill="#1212f8" stroke="#008" stroke-width="0.5"/>
<ellipse cx="544.9" cy="164.4" rx="2.5" ry="1.9" fill="#1212f8" stroke="#008" stroke-width="0.5"/>
<ellipse cx="548.8" cy="161.8" rx="2.5" ry="1.9" fill="#1212f8" stroke="#008" stroke-width="0.5"/>
<ellipse cx="549.7" cy="166.1" rx="2.5" ry="1.9" fill="#1212f8" stroke="#008" stroke-width="0.5"/>
<ellipse cx="553.6" cy="163.5" rx="2.5" ry="1.9" fill="#1212f8" stroke="#008" stroke-width="0.5"/>
<ellipse cx="548.8" cy="170.9" rx="2.5" ry="1.9" fill="#1212f8" stroke="#008" stroke-width="0.5"/>
<ellipse cx="554.1" cy="170.5" rx="2.5" ry="1.9" fill="#1212f8" stroke="#008" stroke-width="0.5"/>
<ellipse cx="556.3" cy="167.9" rx="2.5" ry="1.9" fill="#1212f8" stroke="#008" stroke-width="0.5"/>
<ellipse cx="560.2" cy="169.6" rx="2.5" ry="1.9" fill="#1212f8" stroke="#008" stroke-width="0.5"/>
<ellipse cx="555.4" cy="175.8" rx="2.5" ry="1.9" fill="#1212f8" stroke="#008" stroke-width="0.5"/>
<ellipse cx="559.8" cy="173.1" rx="2.5" ry="1.9" fill="#1212f8" stroke="#008" stroke-width="0.5"/>
<ellipse cx="564.2" cy="171.4" rx="2.5" ry="1.9" fill="#1212f8" stroke="#008" stroke-width="0.5"/>
<ellipse cx="560.6" cy="175.8" rx="2.5" ry="1.9" fill="#1212f8" stroke="#008" stroke-width="0.5"/>
<ellipse cx="564.6" cy="179.3" rx="2.5" ry="1.9" fill="#1212f8" stroke="#008" stroke-width="0.5"/>
<ellipse cx="565.9" cy="163.5" rx="2.5" ry="1.9" fill="#1212f8" stroke="#008" stroke-width="0.5"/>
<ellipse cx="569.4" cy="166.6" rx="2.5" ry="1.9" fill="#1212f8" stroke="#008" stroke-width="0.5"/>
<ellipse cx="569.0" cy="170.9" rx="2.5" ry="1.9" fill="#1212f8" stroke="#008" stroke-width="0.5"/>
<ellipse cx="571.2" cy="176.6" rx="2.5" ry="1.9" fill="#1212f8" stroke="#008" stroke-width="0.5"/>
<ellipse cx="571.2" cy="181.0" rx="2.5" ry="1.9" fill="#1212f8" stroke="#008" stroke-width="0.5"/>
<ellipse cx="567.7" cy="185.0" rx="2.5" ry="1.9" fill="#1212f8" stroke="#008" stroke-width="0.5"/>
<ellipse cx="575.5" cy="175.8" rx="2.5" ry="1.9" fill="#1212f8" stroke="#008" stroke-width="0.5"/>
<ellipse cx="577.3" cy="180.1" rx="2.5" ry="1.9" fill="#1212f8" stroke="#008" stroke-width="0.5"/>
<ellipse cx="575.5" cy="184.5" rx="2.5" ry="1.9" fill="#1212f8" stroke="#008" stroke-width="0.5"/>
<ellipse cx="579.9" cy="177.5" rx="2.5" ry="1.9" fill="#1212f8" stroke="#008" stroke-width="0.5"/>
<ellipse cx="582.5" cy="181.9" rx="2.5" ry="1.9" fill="#1212f8" stroke="#008" stroke-width="0.5"/>
<ellipse cx="584.3" cy="174.9" rx="2.5" ry="1.9" fill="#1212f8" stroke="#008" stroke-width="0.5"/>
<ellipse cx="586.0" cy="170.5" rx="2.5" ry="1.9" fill="#1212f8" stroke="#008" stroke-width="0.5"/>
<ellipse cx="577.3" cy="170.5" rx="2.5" ry="1.9" fill="#1212f8" stroke="#008" stroke-width="0.5"/>
<ellipse cx="573.8" cy="169.6" rx="2.5" ry="1.9" fill="#1212f8" stroke="#008" stroke-width="0.5"/>
<ellipse cx="579.9" cy="166.1" rx="2.5" ry="1.9" fill="#1212f8" stroke="#008" stroke-width="0.5"/>
<ellipse cx="586.0" cy="165.3" rx="2.5" ry="1.9" fill="#1212f8" stroke="#008" stroke-width="0.5"/>
<ellipse cx="575.5" cy="163.5" rx="2.5" ry="1.9" fill="#1212f8" stroke="#008" stroke-width="0.5"/>
<ellipse cx="582.5" cy="162.6" rx="2.5" ry="1.9" fill="#1212f8" stroke="#008" stroke-width="0.5"/>
<ellipse cx="587.8" cy="161.8" rx="2.5" ry="1.9" fill="#1212f8" stroke="#008" stroke-width="0.5"/>
<ellipse cx="541.4" cy="187.1" rx="2.5" ry="1.9" fill="#1212f8" stroke="#008" stroke-width="0.5"/>
<ellipse cx="553.6" cy="188.9" rx="2.5" ry="1.9" fill="#1212f8" stroke="#008" stroke-width="0.5"/>
<ellipse cx="556.7" cy="187.1" rx="2.5" ry="1.9" fill="#1212f8" stroke="#008" stroke-width="0.5"/>
<ellipse cx="563.7" cy="187.1" rx="2.5" ry="1.9" fill="#1212f8" stroke="#008" stroke-width="0.5"/>
<ellipse cx="575.5" cy="190.2" rx="2.5" ry="1.9" fill="#1212f8" stroke="#008" stroke-width="0.5"/>
<ellipse cx="580.8" cy="192.8" rx="2.5" ry="1.9" fill="#1212f8" stroke="#008" stroke-width="0.5"/>
<ellipse cx="590.8" cy="194.1" rx="2.5" ry="1.9" fill="#1212f8" stroke="#008" stroke-width="0.5"/>
<ellipse cx="563.3" cy="195.9" rx="2.5" ry="1.9" fill="#1212f8" stroke="#008" stroke-width="0.5"/>
<ellipse cx="535.3" cy="199.0" rx="2.5" ry="1.9" fill="#1212f8" stroke="#008" stroke-width="0.5"/>
<ellipse cx="570.7" cy="198.5" rx="2.5" ry="1.9" fill="#1212f8" stroke="#008" stroke-width="0.5"/>
<ellipse cx="584.3" cy="186.3" rx="2.5" ry="1.9" fill="#1212f8" stroke="#008" stroke-width="0.5"/>
<ellipse cx="588.7" cy="187.1" rx="2.5" ry="1.9" fill="#1212f8" stroke="#008" stroke-width="0.5"/>
<ellipse cx="600.0" cy="188.1" rx="2.5" ry="1.9" fill="#1212f8" stroke="#008" stroke-width="0.5"/>
<ellipse cx="594.7" cy="188.1" rx="2.5" ry="1.9" fill="#1212f8" stroke="#008" stroke-width="0.5"/>
<ellipse cx="576.3" cy="191.0" rx="2.5" ry="1.9" fill="#1212f8" stroke="#008" stroke-width="0.5"/>
<ellipse cx="575.9" cy="187.5" rx="2.5" ry="1.9" fill="#1212f8" stroke="#008" stroke-width="0.5"/>
<ellipse cx="590.8" cy="182.7" rx="2.5" ry="1.9" fill="#1212f8" stroke="#008" stroke-width="0.5"/>
<ellipse cx="585.5" cy="177.9" rx="2.5" ry="1.9" fill="#1212f8" stroke="#008" stroke-width="0.5"/>
<ellipse cx="579.4" cy="177.0" rx="2.5" ry="1.9" fill="#1212f8" stroke="#008" stroke-width="0.5"/>
<ellipse cx="580.3" cy="183.1" rx="2.5" ry="1.9" fill="#1212f8" stroke="#008" stroke-width="0.5"/>
<ellipse cx="585.5" cy="184.9" rx="2.5" ry="1.9" fill="#1212f8" stroke="#008" stroke-width="0.5"/>
<ellipse cx="588.1" cy="172.6" rx="2.5" ry="1.9" fill="#1212f8" stroke="#008" stroke-width="0.5"/>
<ellipse cx="583.8" cy="171.3" rx="2.5" ry="1.9" fill="#1212f8" stroke="#008" stroke-width="0.5"/>
<ellipse cx="576.8" cy="172.6" rx="2.5" ry="1.9" fill="#1212f8" stroke="#008" stroke-width="0.5"/>
<ellipse cx="514.6" cy="186.5" rx="2.5" ry="1.9" fill="#1212f8" stroke="#008" stroke-width="0.5"/>
<ellipse cx="526.7" cy="193.4" rx="2.5" ry="1.9" fill="#1212f8" stroke="#008" stroke-width="0.5"/>
<ellipse cx="378.8" cy="186.5" rx="2.5" ry="1.9" fill="#148a14" stroke="#064806" stroke-width="0.5"/>
<ellipse cx="378.8" cy="192.3" rx="2.5" ry="1.9" fill="#148a14" stroke="#064806" stroke-width="0.5"/>
<ellipse cx="383.1" cy="184.3" rx="2.5" ry="1.9" fill="#148a14" stroke="#064806" stroke-width="0.5"/>
<ellipse cx="384.0" cy="191.3" rx="2.5" ry="1.9" fill="#148a14" stroke="#064806" stroke-width="0.5"/>
<ellipse cx="386.6" cy="183.4" rx="2.5" ry="1.9" fill="#148a14" stroke="#064806" stroke-width="0.5"/>
<ellipse cx="387.5" cy="190.4" rx="2.5" ry="1.9" fill="#148a14" stroke="#064806" stroke-width="0.5"/>
<ellipse cx="390.1" cy="181.2" rx="2.5" ry="1.9" fill="#148a14" stroke="#064806" stroke-width="0.5"/>
<ellipse cx="390.6" cy="185.6" rx="2.5" ry="1.9" fill="#148a14" stroke="#064806" stroke-width="0.5"/>
<ellipse cx="391.9" cy="188.6" rx="2.5" ry="1.9" fill="#148a14" stroke="#064806" stroke-width="0.5"/>
<ellipse cx="394.5" cy="193.0" rx="2.5" ry="1.9" fill="#148a14" stroke="#064806" stroke-width="0.5"/>
<ellipse cx="395.4" cy="179.4" rx="2.5" ry="1.9" fill="#148a14" stroke="#064806" stroke-width="0.5"/>
<ellipse cx="393.6" cy="183.4" rx="2.5" ry="1.9" fill="#148a14" stroke="#064806" stroke-width="0.5"/>
<ellipse cx="398.0" cy="185.6" rx="2.5" ry="1.9" fill="#148a14" stroke="#064806" stroke-width="0.5"/>
<ellipse cx="399.8" cy="179.0" rx="2.5" ry="1.9" fill="#148a14" stroke="#064806" stroke-width="0.5"/>
<ellipse cx="399.8" cy="190.4" rx="2.5" ry="1.9" fill="#148a14" stroke="#064806" stroke-width="0.5"/>
<ellipse cx="402.4" cy="180.3" rx="2.5" ry="1.9" fill="#148a14" stroke="#064806" stroke-width="0.5"/>
<ellipse cx="402.0" cy="186.0" rx="2.5" ry="1.9" fill="#148a14" stroke="#064806" stroke-width="0.5"/>
<ellipse cx="404.6" cy="189.5" rx="2.5" ry="1.9" fill="#148a14" stroke="#064806" stroke-width="0.5"/>
<ellipse cx="405.5" cy="183.8" rx="2.5" ry="1.9" fill="#148a14" stroke="#064806" stroke-width="0.5"/>
<ellipse cx="407.7" cy="190.8" rx="2.5" ry="1.9" fill="#148a14" stroke="#064806" stroke-width="0.5"/>
<ellipse cx="397.1" cy="182.1" rx="2.5" ry="1.9" fill="#148a14" stroke="#064806" stroke-width="0.5"/>
<ellipse cx="388.4" cy="186.9" rx="2.5" ry="1.9" fill="#148a14" stroke="#064806" stroke-width="0.5"/>
<ellipse cx="384.4" cy="187.3" rx="2.5" ry="1.9" fill="#148a14" stroke="#064806" stroke-width="0.5"/>
<ellipse cx="406.8" cy="173.3" rx="2.5" ry="1.9" fill="#148a14" stroke="#064806" stroke-width="0.5"/>
<ellipse cx="405.9" cy="175.9" rx="2.5" ry="1.9" fill="#148a14" stroke="#064806" stroke-width="0.5"/>
<ellipse cx="408.5" cy="177.3" rx="2.5" ry="1.9" fill="#148a14" stroke="#064806" stroke-width="0.5"/>
<ellipse cx="412.0" cy="175.5" rx="2.5" ry="1.9" fill="#148a14" stroke="#064806" stroke-width="0.5"/>
<ellipse cx="412.9" cy="177.7" rx="2.5" ry="1.9" fill="#148a14" stroke="#064806" stroke-width="0.5"/>
<ellipse cx="411.2" cy="168.1" rx="2.5" ry="1.9" fill="#148a14" stroke="#064806" stroke-width="0.5"/>
<ellipse cx="415.5" cy="166.8" rx="2.5" ry="1.9" fill="#148a14" stroke="#064806" stroke-width="0.5"/>
<ellipse cx="415.1" cy="171.1" rx="2.5" ry="1.9" fill="#148a14" stroke="#064806" stroke-width="0.5"/>
<ellipse cx="420.8" cy="173.8" rx="2.5" ry="1.9" fill="#148a14" stroke="#064806" stroke-width="0.5"/>
<ellipse cx="420.3" cy="178.1" rx="2.5" ry="1.9" fill="#148a14" stroke="#064806" stroke-width="0.5"/>
<ellipse cx="426.0" cy="178.8" rx="2.5" ry="1.9" fill="#148a14" stroke="#064806" stroke-width="0.5"/>
<ellipse cx="418.6" cy="182.1" rx="2.5" ry="1.9" fill="#148a14" stroke="#064806" stroke-width="0.5"/>
<ellipse cx="429.5" cy="174.6" rx="2.5" ry="1.9" fill="#148a14" stroke="#064806" stroke-width="0.5"/>
<ellipse cx="176.3" cy="322.5" rx="2.45" ry="1.7" fill="#1212f8" stroke="#008" stroke-width="0.5"/>
<ellipse cx="180.2" cy="325.8" rx="2.45" ry="1.7" fill="#1212f8" stroke="#008" stroke-width="0.5"/>
<ellipse cx="189.4" cy="323.1" rx="2.45" ry="1.7" fill="#1212f8" stroke="#008" stroke-width="0.5"/>
<ellipse cx="193.4" cy="327.1" rx="2.45" ry="1.7" fill="#1212f8" stroke="#008" stroke-width="0.5"/>
<ellipse cx="186.8" cy="328.4" rx="2.45" ry="1.7" fill="#1212f8" stroke="#008" stroke-width="0.5"/>
<ellipse cx="197.3" cy="328.4" rx="2.45" ry="1.7" fill="#1212f8" stroke="#008" stroke-width="0.5"/>
<ellipse cx="205.2" cy="327.1" rx="2.45" ry="1.7" fill="#1212f8" stroke="#008" stroke-width="0.5"/>
<ellipse cx="209.1" cy="329.7" rx="2.45" ry="1.7" fill="#1212f8" stroke="#008" stroke-width="0.5"/>
<ellipse cx="181.5" cy="329.7" rx="2.45" ry="1.7" fill="#1212f8" stroke="#008" stroke-width="0.5"/>
<ellipse cx="160.5" cy="325.8" rx="2.45" ry="1.7" fill="#1212f8" stroke="#008" stroke-width="0.5"/>
<ellipse cx="154.0" cy="329.7" rx="2.45" ry="1.7" fill="#1212f8" stroke="#008" stroke-width="0.5"/>
<ellipse cx="223.6" cy="336.3" rx="2.45" ry="1.7" fill="#1212f8" stroke="#008" stroke-width="0.5"/>
<ellipse cx="228.8" cy="338.9" rx="2.45" ry="1.7" fill="#1212f8" stroke="#008" stroke-width="0.5"/>
<ellipse cx="219.6" cy="333.7" rx="2.45" ry="1.7" fill="#1212f8" stroke="#008" stroke-width="0.5"/>
<ellipse cx="119.3" cy="330.4" rx="2.45" ry="1.7" fill="#1212f8" stroke="#008" stroke-width="0.5"/>
<ellipse cx="127.6" cy="331.6" rx="2.45" ry="1.7" fill="#1212f8" stroke="#008" stroke-width="0.5"/>
<ellipse cx="126.4" cy="335.7" rx="2.45" ry="1.7" fill="#1212f8" stroke="#008" stroke-width="0.5"/>
<ellipse cx="132.3" cy="337.5" rx="2.45" ry="1.7" fill="#1212f8" stroke="#008" stroke-width="0.5"/>
<ellipse cx="137.0" cy="335.1" rx="2.45" ry="1.7" fill="#1212f8" stroke="#008" stroke-width="0.5"/>
<ellipse cx="139.4" cy="328.0" rx="2.45" ry="1.7" fill="#1212f8" stroke="#008" stroke-width="0.5"/>
<ellipse cx="141.8" cy="331.6" rx="2.45" ry="1.7" fill="#1212f8" stroke="#008" stroke-width="0.5"/>
<ellipse cx="151.2" cy="331.6" rx="2.45" ry="1.7" fill="#1212f8" stroke="#008" stroke-width="0.5"/>
<ellipse cx="156.0" cy="333.9" rx="2.45" ry="1.7" fill="#1212f8" stroke="#008" stroke-width="0.5"/>
<ellipse cx="114.6" cy="343.4" rx="2.45" ry="1.7" fill="#1212f8" stroke="#008" stroke-width="0.5"/>
<ellipse cx="109.8" cy="345.8" rx="2.45" ry="1.7" fill="#1212f8" stroke="#008" stroke-width="0.5"/>
<ellipse cx="105.1" cy="349.3" rx="2.45" ry="1.7" fill="#1212f8" stroke="#008" stroke-width="0.5"/>
<ellipse cx="112.2" cy="351.7" rx="2.45" ry="1.7" fill="#1212f8" stroke="#008" stroke-width="0.5"/>
<ellipse cx="99.2" cy="350.5" rx="2.45" ry="1.7" fill="#1212f8" stroke="#008" stroke-width="0.5"/>
<ellipse cx="96.8" cy="354.0" rx="2.45" ry="1.7" fill="#1212f8" stroke="#008" stroke-width="0.5"/>
<ellipse cx="101.6" cy="356.4" rx="2.45" ry="1.7" fill="#1212f8" stroke="#008" stroke-width="0.5"/>
<ellipse cx="94.5" cy="360.0" rx="2.45" ry="1.7" fill="#1212f8" stroke="#008" stroke-width="0.5"/>
<ellipse cx="90.9" cy="363.5" rx="2.45" ry="1.7" fill="#1212f8" stroke="#008" stroke-width="0.5"/>
<ellipse cx="95.6" cy="365.9" rx="2.45" ry="1.7" fill="#1212f8" stroke="#008" stroke-width="0.5"/>
<ellipse cx="128.8" cy="345.2" rx="2.45" ry="1.7" fill="#1212f8" stroke="#008" stroke-width="0.5"/>
<ellipse cx="134.7" cy="345.8" rx="2.45" ry="1.7" fill="#1212f8" stroke="#008" stroke-width="0.5"/>
<ellipse cx="108.7" cy="338.7" rx="2.45" ry="1.7" fill="#1212f8" stroke="#008" stroke-width="0.5"/>
<ellipse cx="144.2" cy="338.7" rx="2.45" ry="1.7" fill="#1212f8" stroke="#008" stroke-width="0.5"/>
<ellipse cx="146.5" cy="323.3" rx="2.45" ry="1.7" fill="#1212f8" stroke="#008" stroke-width="0.5"/>
<ellipse cx="153.6" cy="325.6" rx="2.45" ry="1.7" fill="#1212f8" stroke="#008" stroke-width="0.5"/>
<ellipse cx="35.2" cy="289.2" rx="2.45" ry="1.7" fill="#148a14" stroke="#064806" stroke-width="0.5"/>
<ellipse cx="85.4" cy="281.1" rx="2.45" ry="1.7" fill="#148a14" stroke="#064806" stroke-width="0.5"/>
<ellipse cx="94.1" cy="290.2" rx="2.45" ry="1.7" fill="#148a14" stroke="#064806" stroke-width="0.5"/>
<ellipse cx="66.7" cy="298.6" rx="2.45" ry="1.7" fill="#148a14" stroke="#064806" stroke-width="0.5"/>
<ellipse cx="77.4" cy="299.2" rx="2.45" ry="1.7" fill="#148a14" stroke="#064806" stroke-width="0.5"/>
<ellipse cx="84.9" cy="303.3" rx="2.45" ry="1.7" fill="#148a14" stroke="#064806" stroke-width="0.5"/>
<ellipse cx="95.1" cy="302.1" rx="2.45" ry="1.7" fill="#148a14" stroke="#064806" stroke-width="0.5"/>
<ellipse cx="65.2" cy="308.9" rx="2.45" ry="1.7" fill="#148a14" stroke="#064806" stroke-width="0.5"/>
<ellipse cx="83.7" cy="307.9" rx="2.45" ry="1.7" fill="#148a14" stroke="#064806" stroke-width="0.5"/>
<ellipse cx="95.8" cy="309.8" rx="2.45" ry="1.7" fill="#148a14" stroke="#064806" stroke-width="0.5"/>
<ellipse cx="144.8" cy="259.5" rx="2.45" ry="1.7" fill="#148a14" stroke="#064806" stroke-width="0.5"/>
<ellipse cx="163.9" cy="272.1" rx="2.45" ry="1.7" fill="#148a14" stroke="#064806" stroke-width="0.5"/>
<ellipse cx="119.0" cy="277.7" rx="2.45" ry="1.7" fill="#148a14" stroke="#064806" stroke-width="0.5"/>
<ellipse cx="126.2" cy="275.5" rx="2.45" ry="1.7" fill="#148a14" stroke="#064806" stroke-width="0.5"/>
<ellipse cx="125.5" cy="283.8" rx="2.45" ry="1.7" fill="#148a14" stroke="#064806" stroke-width="0.5"/>
<ellipse cx="134.8" cy="285.2" rx="2.45" ry="1.7" fill="#148a14" stroke="#064806" stroke-width="0.5"/>
<ellipse cx="115.2" cy="287.0" rx="2.45" ry="1.7" fill="#148a14" stroke="#064806" stroke-width="0.5"/>
<ellipse cx="121.8" cy="289.2" rx="2.45" ry="1.7" fill="#148a14" stroke="#064806" stroke-width="0.5"/>
<ellipse cx="127.1" cy="292.0" rx="2.45" ry="1.7" fill="#148a14" stroke="#064806" stroke-width="0.5"/>
<ellipse cx="133.0" cy="293.0" rx="2.45" ry="1.7" fill="#148a14" stroke="#064806" stroke-width="0.5"/>
<ellipse cx="138.0" cy="296.1" rx="2.45" ry="1.7" fill="#148a14" stroke="#064806" stroke-width="0.5"/>
<ellipse cx="108.4" cy="294.6" rx="2.45" ry="1.7" fill="#148a14" stroke="#064806" stroke-width="0.5"/>
<ellipse cx="154.6" cy="291.1" rx="2.45" ry="1.7" fill="#148a14" stroke="#064806" stroke-width="0.5"/>
<ellipse cx="125.2" cy="298.0" rx="2.45" ry="1.7" fill="#148a14" stroke="#064806" stroke-width="0.5"/>
<ellipse cx="131.2" cy="298.9" rx="2.45" ry="1.7" fill="#148a14" stroke="#064806" stroke-width="0.5"/>
<ellipse cx="120.8" cy="301.4" rx="2.45" ry="1.7" fill="#148a14" stroke="#064806" stroke-width="0.5"/>
<ellipse cx="116.1" cy="305.4" rx="2.45" ry="1.7" fill="#148a14" stroke="#064806" stroke-width="0.5"/>
<ellipse cx="120.5" cy="307.3" rx="2.45" ry="1.7" fill="#148a14" stroke="#064806" stroke-width="0.5"/>
<ellipse cx="181.6" cy="298.0" rx="2.45" ry="1.7" fill="#148a14" stroke="#064806" stroke-width="0.5"/>
<ellipse cx="177.7" cy="306.7" rx="2.45" ry="1.7" fill="#148a14" stroke="#064806" stroke-width="0.5"/>
<ellipse cx="21.4" cy="312.6" rx="2.45" ry="1.7" fill="#148a14" stroke="#064806" stroke-width="0.5"/>
<ellipse cx="31.6" cy="316.5" rx="2.45" ry="1.7" fill="#148a14" stroke="#064806" stroke-width="0.5"/>
<ellipse cx="35.0" cy="318.3" rx="2.45" ry="1.7" fill="#148a14" stroke="#064806" stroke-width="0.5"/>
<ellipse cx="46.4" cy="322.0" rx="2.45" ry="1.7" fill="#148a14" stroke="#064806" stroke-width="0.5"/>
<ellipse cx="48.5" cy="329.0" rx="2.45" ry="1.7" fill="#148a14" stroke="#064806" stroke-width="0.5"/>
<ellipse cx="48.9" cy="330.5" rx="2.45" ry="1.7" fill="#148a14" stroke="#064806" stroke-width="0.5"/>
<ellipse cx="28.8" cy="333.1" rx="2.45" ry="1.7" fill="#148a14" stroke="#064806" stroke-width="0.5"/>
<ellipse cx="56.4" cy="336.1" rx="2.45" ry="1.7" fill="#148a14" stroke="#064806" stroke-width="0.5"/>
<ellipse cx="53.3" cy="342.6" rx="2.45" ry="1.7" fill="#148a14" stroke="#064806" stroke-width="0.5"/>
<ellipse cx="56.7" cy="342.0" rx="2.45" ry="1.7" fill="#148a14" stroke="#064806" stroke-width="0.5"/>
<ellipse cx="51.3" cy="347.4" rx="2.45" ry="1.7" fill="#148a14" stroke="#064806" stroke-width="0.5"/>
<ellipse cx="23.4" cy="349.1" rx="2.45" ry="1.7" fill="#148a14" stroke="#064806" stroke-width="0.5"/>
<ellipse cx="40.4" cy="351.2" rx="2.45" ry="1.7" fill="#148a14" stroke="#064806" stroke-width="0.5"/>
<ellipse cx="51.3" cy="351.2" rx="2.45" ry="1.7" fill="#148a14" stroke="#064806" stroke-width="0.5"/>
<ellipse cx="65.1" cy="310.9" rx="2.45" ry="1.7" fill="#148a14" stroke="#064806" stroke-width="0.5"/>
<ellipse cx="72.2" cy="313.0" rx="2.45" ry="1.7" fill="#148a14" stroke="#064806" stroke-width="0.5"/>
<ellipse cx="75.3" cy="314.7" rx="2.45" ry="1.7" fill="#148a14" stroke="#064806" stroke-width="0.5"/>
<ellipse cx="82.3" cy="311.1" rx="2.45" ry="1.7" fill="#148a14" stroke="#064806" stroke-width="0.5"/>
<ellipse cx="66.1" cy="318.8" rx="2.45" ry="1.7" fill="#148a14" stroke="#064806" stroke-width="0.5"/>
<ellipse cx="71.2" cy="318.1" rx="2.45" ry="1.7" fill="#148a14" stroke="#064806" stroke-width="0.5"/>
<ellipse cx="70.0" cy="321.5" rx="2.45" ry="1.7" fill="#148a14" stroke="#064806" stroke-width="0.5"/>
<ellipse cx="68.2" cy="333.1" rx="2.45" ry="1.7" fill="#148a14" stroke="#064806" stroke-width="0.5"/>
<ellipse cx="65.6" cy="336.1" rx="2.45" ry="1.7" fill="#148a14" stroke="#064806" stroke-width="0.5"/>
<ellipse cx="80.9" cy="338.5" rx="2.45" ry="1.7" fill="#148a14" stroke="#064806" stroke-width="0.5"/>
<ellipse cx="72.2" cy="346.9" rx="2.45" ry="1.7" fill="#f68a1e" stroke="#8a4a08" stroke-width="0.5"/>
<ellipse cx="76.8" cy="346.2" rx="2.45" ry="1.7" fill="#f68a1e" stroke="#8a4a08" stroke-width="0.5"/>
<ellipse cx="83.0" cy="342.8" rx="2.45" ry="1.7" fill="#f68a1e" stroke="#8a4a08" stroke-width="0.5"/>
<ellipse cx="64.1" cy="351.5" rx="2.45" ry="1.7" fill="#148a14" stroke="#064806" stroke-width="0.5"/>
<ellipse cx="116.3" cy="313.0" rx="2.45" ry="1.7" fill="#148a14" stroke="#064806" stroke-width="0.5"/>
<ellipse cx="100.4" cy="316.7" rx="2.45" ry="1.7" fill="#148a14" stroke="#064806" stroke-width="0.5"/>
<ellipse cx="108.1" cy="318.8" rx="2.45" ry="1.7" fill="#148a14" stroke="#064806" stroke-width="0.5"/>
<ellipse cx="120.7" cy="317.0" rx="2.45" ry="1.7" fill="#148a14" stroke="#064806" stroke-width="0.5"/>
<ellipse cx="115.0" cy="320.8" rx="2.45" ry="1.7" fill="#148a14" stroke="#064806" stroke-width="0.5"/>
<ellipse cx="100.4" cy="322.1" rx="2.45" ry="1.7" fill="#148a14" stroke="#064806" stroke-width="0.5"/>
<ellipse cx="90.5" cy="323.4" rx="2.45" ry="1.7" fill="#148a14" stroke="#064806" stroke-width="0.5"/>
<ellipse cx="136.2" cy="323.9" rx="2.45" ry="1.7" fill="#1212f8" stroke="#008" stroke-width="0.5"/>
<ellipse cx="139.8" cy="325.2" rx="2.45" ry="1.7" fill="#1212f8" stroke="#008" stroke-width="0.5"/>
<ellipse cx="148.5" cy="321.8" rx="2.45" ry="1.7" fill="#1212f8" stroke="#008" stroke-width="0.5"/>
<ellipse cx="148.0" cy="324.4" rx="2.45" ry="1.7" fill="#1212f8" stroke="#008" stroke-width="0.5"/>
<ellipse cx="124.5" cy="327.5" rx="2.45" ry="1.7" fill="#ff0000" stroke="#900" stroke-width="0.5"/>
<ellipse cx="121.4" cy="330.0" rx="2.45" ry="1.7" fill="#ff0000" stroke="#900" stroke-width="0.5"/>
<ellipse cx="117.3" cy="330.5" rx="2.45" ry="1.7" fill="#1212f8" stroke="#008" stroke-width="0.5"/>
<ellipse cx="132.1" cy="328.0" rx="2.45" ry="1.7" fill="#1212f8" stroke="#008" stroke-width="0.5"/>
<ellipse cx="135.2" cy="329.5" rx="2.45" ry="1.7" fill="#1212f8" stroke="#008" stroke-width="0.5"/>
<ellipse cx="144.4" cy="328.0" rx="2.45" ry="1.7" fill="#1212f8" stroke="#008" stroke-width="0.5"/>
<ellipse cx="148.0" cy="327.0" rx="2.45" ry="1.7" fill="#ff0000" stroke="#900" stroke-width="0.5"/>
<ellipse cx="106.6" cy="330.5" rx="2.45" ry="1.7" fill="#1212f8" stroke="#008" stroke-width="0.5"/>
<ellipse cx="110.7" cy="331.5" rx="2.45" ry="1.7" fill="#f68a1e" stroke="#8a4a08" stroke-width="0.5"/>
<ellipse cx="103.5" cy="332.6" rx="2.45" ry="1.7" fill="#ff0000" stroke="#900" stroke-width="0.5"/>
<ellipse cx="107.4" cy="333.4" rx="2.45" ry="1.7" fill="#f68a1e" stroke="#8a4a08" stroke-width="0.5"/>
<ellipse cx="102.0" cy="334.4" rx="2.45" ry="1.7" fill="#1212f8" stroke="#008" stroke-width="0.5"/>
<ellipse cx="109.6" cy="335.1" rx="2.45" ry="1.7" fill="#ff0000" stroke="#900" stroke-width="0.5"/>
<ellipse cx="97.6" cy="336.1" rx="2.45" ry="1.7" fill="#f68a1e" stroke="#8a4a08" stroke-width="0.5"/>
<ellipse cx="106.4" cy="337.0" rx="2.45" ry="1.7" fill="#f68a1e" stroke="#8a4a08" stroke-width="0.5"/>
<ellipse cx="114.7" cy="334.1" rx="2.45" ry="1.7" fill="#1212f8" stroke="#008" stroke-width="0.5"/>
<ellipse cx="117.8" cy="336.1" rx="2.45" ry="1.7" fill="#1212f8" stroke="#008" stroke-width="0.5"/>
<ellipse cx="122.9" cy="333.1" rx="2.45" ry="1.7" fill="#1212f8" stroke="#008" stroke-width="0.5"/>
<ellipse cx="126.0" cy="335.6" rx="2.45" ry="1.7" fill="#1212f8" stroke="#008" stroke-width="0.5"/>
<ellipse cx="129.0" cy="332.1" rx="2.45" ry="1.7" fill="#1212f8" stroke="#008" stroke-width="0.5"/>
<ellipse cx="134.2" cy="333.6" rx="2.45" ry="1.7" fill="#1212f8" stroke="#008" stroke-width="0.5"/>
<ellipse cx="138.8" cy="332.1" rx="2.45" ry="1.7" fill="#1212f8" stroke="#008" stroke-width="0.5"/>
<ellipse cx="144.4" cy="334.9" rx="2.45" ry="1.7" fill="#148a14" stroke="#064806" stroke-width="0.5"/>
<ellipse cx="141.3" cy="336.7" rx="2.45" ry="1.7" fill="#1212f8" stroke="#008" stroke-width="0.5"/>
<ellipse cx="147.4" cy="335.1" rx="2.45" ry="1.7" fill="#1212f8" stroke="#008" stroke-width="0.5"/>
<ellipse cx="117.8" cy="338.5" rx="2.45" ry="1.7" fill="#148a14" stroke="#064806" stroke-width="0.5"/>
<ellipse cx="92.3" cy="339.2" rx="2.45" ry="1.7" fill="#ff0000" stroke="#900" stroke-width="0.5"/>
<ellipse cx="84.6" cy="339.5" rx="2.45" ry="1.7" fill="#1212f8" stroke="#008" stroke-width="0.5"/>
<ellipse cx="102.5" cy="339.0" rx="2.45" ry="1.7" fill="#1212f8" stroke="#008" stroke-width="0.5"/>
<ellipse cx="108.1" cy="340.2" rx="2.45" ry="1.7" fill="#1212f8" stroke="#008" stroke-width="0.5"/>
<ellipse cx="113.7" cy="342.8" rx="2.45" ry="1.7" fill="#1212f8" stroke="#008" stroke-width="0.5"/>
<ellipse cx="118.3" cy="341.3" rx="2.45" ry="1.7" fill="#1212f8" stroke="#008" stroke-width="0.5"/>
<ellipse cx="123.9" cy="339.7" rx="2.45" ry="1.7" fill="#1212f8" stroke="#008" stroke-width="0.5"/>
<ellipse cx="128.0" cy="341.8" rx="2.45" ry="1.7" fill="#1212f8" stroke="#008" stroke-width="0.5"/>
<ellipse cx="133.1" cy="339.7" rx="2.45" ry="1.7" fill="#1212f8" stroke="#008" stroke-width="0.5"/>
<ellipse cx="138.2" cy="338.7" rx="2.45" ry="1.7" fill="#1212f8" stroke="#008" stroke-width="0.5"/>
<ellipse cx="143.4" cy="339.7" rx="2.45" ry="1.7" fill="#1212f8" stroke="#008" stroke-width="0.5"/>
<ellipse cx="143.4" cy="342.8" rx="2.45" ry="1.7" fill="#1212f8" stroke="#008" stroke-width="0.5"/>
<ellipse cx="105.5" cy="344.3" rx="2.45" ry="1.7" fill="#1212f8" stroke="#008" stroke-width="0.5"/>
<ellipse cx="109.6" cy="342.8" rx="2.45" ry="1.7" fill="#1212f8" stroke="#008" stroke-width="0.5"/>
<ellipse cx="120.9" cy="343.8" rx="2.45" ry="1.7" fill="#1212f8" stroke="#008" stroke-width="0.5"/>
<ellipse cx="126.0" cy="345.3" rx="2.45" ry="1.7" fill="#1212f8" stroke="#008" stroke-width="0.5"/>
<ellipse cx="131.1" cy="345.9" rx="2.45" ry="1.7" fill="#1212f8" stroke="#008" stroke-width="0.5"/>
<ellipse cx="136.2" cy="345.3" rx="2.45" ry="1.7" fill="#1212f8" stroke="#008" stroke-width="0.5"/>
<ellipse cx="143.4" cy="347.4" rx="2.45" ry="1.7" fill="#1212f8" stroke="#008" stroke-width="0.5"/>
<ellipse cx="149.0" cy="343.8" rx="2.45" ry="1.7" fill="#148a14" stroke="#064806" stroke-width="0.5"/>
<ellipse cx="148.7" cy="346.4" rx="2.45" ry="1.7" fill="#ff0000" stroke="#900" stroke-width="0.5"/>
<ellipse cx="102.0" cy="347.4" rx="2.45" ry="1.7" fill="#1212f8" stroke="#008" stroke-width="0.5"/>
<ellipse cx="107.6" cy="347.9" rx="2.45" ry="1.7" fill="#1212f8" stroke="#008" stroke-width="0.5"/>
<ellipse cx="112.7" cy="346.9" rx="2.45" ry="1.7" fill="#1212f8" stroke="#008" stroke-width="0.5"/>
<ellipse cx="96.3" cy="351.0" rx="2.45" ry="1.7" fill="#1212f8" stroke="#008" stroke-width="0.5"/>
<ellipse cx="100.4" cy="350.5" rx="2.45" ry="1.7" fill="#1212f8" stroke="#008" stroke-width="0.5"/>
<ellipse cx="105.5" cy="351.0" rx="2.45" ry="1.7" fill="#1212f8" stroke="#008" stroke-width="0.5"/>
<ellipse cx="110.7" cy="351.0" rx="2.45" ry="1.7" fill="#1212f8" stroke="#008" stroke-width="0.5"/>
<ellipse cx="116.3" cy="349.9" rx="2.45" ry="1.7" fill="#1212f8" stroke="#008" stroke-width="0.5"/>
<ellipse cx="120.9" cy="349.4" rx="2.45" ry="1.7" fill="#ff0000" stroke="#900" stroke-width="0.5"/>
<ellipse cx="125.0" cy="349.4" rx="2.45" ry="1.7" fill="#148a14" stroke="#064806" stroke-width="0.5"/>
<ellipse cx="165.9" cy="316.7" rx="2.45" ry="1.7" fill="#148a14" stroke="#064806" stroke-width="0.5"/>
<ellipse cx="166.4" cy="321.3" rx="2.45" ry="1.7" fill="#148a14" stroke="#064806" stroke-width="0.5"/>
<ellipse cx="169.5" cy="319.8" rx="2.45" ry="1.7" fill="#1212f8" stroke="#008" stroke-width="0.5"/>
<ellipse cx="169.0" cy="322.9" rx="2.45" ry="1.7" fill="#1212f8" stroke="#008" stroke-width="0.5"/>
<ellipse cx="153.2" cy="323.9" rx="2.45" ry="1.7" fill="#1212f8" stroke="#008" stroke-width="0.5"/>
<ellipse cx="159.3" cy="324.9" rx="2.45" ry="1.7" fill="#1212f8" stroke="#008" stroke-width="0.5"/>
<ellipse cx="162.4" cy="323.9" rx="2.45" ry="1.7" fill="#1212f8" stroke="#008" stroke-width="0.5"/>
<ellipse cx="164.9" cy="326.9" rx="2.45" ry="1.7" fill="#1212f8" stroke="#008" stroke-width="0.5"/>
<ellipse cx="161.3" cy="329.0" rx="2.45" ry="1.7" fill="#1212f8" stroke="#008" stroke-width="0.5"/>
<ellipse cx="158.3" cy="330.5" rx="2.45" ry="1.7" fill="#1212f8" stroke="#008" stroke-width="0.5"/>
<ellipse cx="159.8" cy="333.6" rx="2.45" ry="1.7" fill="#1212f8" stroke="#008" stroke-width="0.5"/>
<ellipse cx="166.4" cy="331.0" rx="2.45" ry="1.7" fill="#1212f8" stroke="#008" stroke-width="0.5"/>
<ellipse cx="153.2" cy="332.6" rx="2.45" ry="1.7" fill="#1212f8" stroke="#008" stroke-width="0.5"/>
<ellipse cx="154.7" cy="326.9" rx="2.45" ry="1.7" fill="#f68a1e" stroke="#8a4a08" stroke-width="0.5"/>
<ellipse cx="151.1" cy="328.0" rx="2.45" ry="1.7" fill="#1212f8" stroke="#008" stroke-width="0.5"/>
<ellipse cx="155.2" cy="329.5" rx="2.45" ry="1.7" fill="#1212f8" stroke="#008" stroke-width="0.5"/>
<ellipse cx="148.0" cy="331.5" rx="2.45" ry="1.7" fill="#1212f8" stroke="#008" stroke-width="0.5"/>
<ellipse cx="175.6" cy="321.8" rx="2.45" ry="1.7" fill="#1212f8" stroke="#008" stroke-width="0.5"/>
<ellipse cx="182.3" cy="320.8" rx="2.45" ry="1.7" fill="#1212f8" stroke="#008" stroke-width="0.5"/>
<ellipse cx="174.1" cy="325.9" rx="2.45" ry="1.7" fill="#1212f8" stroke="#008" stroke-width="0.5"/>
<ellipse cx="178.7" cy="324.4" rx="2.45" ry="1.7" fill="#1212f8" stroke="#008" stroke-width="0.5"/>
<ellipse cx="183.8" cy="323.4" rx="2.45" ry="1.7" fill="#1212f8" stroke="#008" stroke-width="0.5"/>
<ellipse cx="186.9" cy="324.9" rx="2.45" ry="1.7" fill="#1212f8" stroke="#008" stroke-width="0.5"/>
<ellipse cx="179.7" cy="327.5" rx="2.45" ry="1.7" fill="#1212f8" stroke="#008" stroke-width="0.5"/>
<ellipse cx="184.8" cy="330.0" rx="2.45" ry="1.7" fill="#1212f8" stroke="#008" stroke-width="0.5"/>
<ellipse cx="188.9" cy="328.0" rx="2.45" ry="1.7" fill="#1212f8" stroke="#008" stroke-width="0.5"/>
<ellipse cx="191.0" cy="325.9" rx="2.45" ry="1.7" fill="#1212f8" stroke="#008" stroke-width="0.5"/>
<ellipse cx="194.0" cy="324.9" rx="2.45" ry="1.7" fill="#1212f8" stroke="#008" stroke-width="0.5"/>
<ellipse cx="197.1" cy="325.4" rx="2.45" ry="1.7" fill="#1212f8" stroke="#008" stroke-width="0.5"/>
<ellipse cx="202.2" cy="324.4" rx="2.45" ry="1.7" fill="#1212f8" stroke="#008" stroke-width="0.5"/>
<ellipse cx="196.1" cy="328.0" rx="2.45" ry="1.7" fill="#1212f8" stroke="#008" stroke-width="0.5"/>
<ellipse cx="201.2" cy="328.5" rx="2.45" ry="1.7" fill="#1212f8" stroke="#008" stroke-width="0.5"/>
<ellipse cx="195.6" cy="331.5" rx="2.45" ry="1.7" fill="#1212f8" stroke="#008" stroke-width="0.5"/>
<ellipse cx="201.7" cy="331.5" rx="2.45" ry="1.7" fill="#1212f8" stroke="#008" stroke-width="0.5"/>
<ellipse cx="191.0" cy="330.0" rx="2.45" ry="1.7" fill="#1212f8" stroke="#008" stroke-width="0.5"/>
<ellipse cx="208.3" cy="325.9" rx="2.45" ry="1.7" fill="#1212f8" stroke="#008" stroke-width="0.5"/>
<ellipse cx="207.3" cy="329.5" rx="2.45" ry="1.7" fill="#1212f8" stroke="#008" stroke-width="0.5"/>
<ellipse cx="211.4" cy="331.5" rx="2.45" ry="1.7" fill="#1212f8" stroke="#008" stroke-width="0.5"/>
<ellipse cx="212.4" cy="334.6" rx="2.45" ry="1.7" fill="#1212f8" stroke="#008" stroke-width="0.5"/>
<ellipse cx="215.0" cy="324.4" rx="2.45" ry="1.7" fill="#1212f8" stroke="#008" stroke-width="0.5"/>
<ellipse cx="175.6" cy="334.1" rx="2.45" ry="1.7" fill="#ff0000" stroke="#900" stroke-width="0.5"/>
<ellipse cx="177.2" cy="333.6" rx="2.45" ry="1.7" fill="#1212f8" stroke="#008" stroke-width="0.5"/>
<ellipse cx="192.5" cy="337.7" rx="2.45" ry="1.7" fill="#1212f8" stroke="#008" stroke-width="0.5"/>
<ellipse cx="153.2" cy="338.2" rx="2.45" ry="1.7" fill="#1212f8" stroke="#008" stroke-width="0.5"/>
<ellipse cx="146.5" cy="338.5" rx="2.45" ry="1.7" fill="#1212f8" stroke="#008" stroke-width="0.5"/>
<ellipse cx="158.3" cy="342.3" rx="2.45" ry="1.7" fill="#1212f8" stroke="#008" stroke-width="0.5"/>
<ellipse cx="151.1" cy="343.3" rx="2.45" ry="1.7" fill="#148a14" stroke="#064806" stroke-width="0.5"/>
<ellipse cx="157.2" cy="344.1" rx="2.45" ry="1.7" fill="#ff0000" stroke="#900" stroke-width="0.5"/>
<ellipse cx="153.2" cy="344.6" rx="2.45" ry="1.7" fill="#1212f8" stroke="#008" stroke-width="0.5"/>
<ellipse cx="177.2" cy="345.9" rx="2.45" ry="1.7" fill="#148a14" stroke="#064806" stroke-width="0.5"/>
<ellipse cx="184.6" cy="344.3" rx="2.45" ry="1.7" fill="#148a14" stroke="#064806" stroke-width="0.5"/>
<ellipse cx="195.0" cy="347.4" rx="2.45" ry="1.7" fill="#1212f8" stroke="#008" stroke-width="0.5"/>
<ellipse cx="165.9" cy="347.9" rx="2.45" ry="1.7" fill="#148a14" stroke="#064806" stroke-width="0.5"/>
<ellipse cx="164.9" cy="351.0" rx="2.45" ry="1.7" fill="#1212f8" stroke="#008" stroke-width="0.5"/>
<ellipse cx="187.4" cy="352.2" rx="2.45" ry="1.7" fill="#148a14" stroke="#064806" stroke-width="0.5"/>
<ellipse cx="201.0" cy="327.7" rx="2.45" ry="1.7" fill="#1212f8" stroke="#008" stroke-width="0.5"/>
<ellipse cx="202.0" cy="331.3" rx="2.45" ry="1.7" fill="#1212f8" stroke="#008" stroke-width="0.5"/>
<ellipse cx="209.7" cy="325.7" rx="2.45" ry="1.7" fill="#1212f8" stroke="#008" stroke-width="0.5"/>
<ellipse cx="206.6" cy="328.7" rx="2.45" ry="1.7" fill="#1212f8" stroke="#008" stroke-width="0.5"/>
<ellipse cx="210.2" cy="330.8" rx="2.45" ry="1.7" fill="#1212f8" stroke="#008" stroke-width="0.5"/>
<ellipse cx="211.8" cy="334.3" rx="2.45" ry="1.7" fill="#1212f8" stroke="#008" stroke-width="0.5"/>
<ellipse cx="215.8" cy="324.4" rx="2.45" ry="1.7" fill="#1212f8" stroke="#008" stroke-width="0.5"/>
<ellipse cx="220.4" cy="329.5" rx="2.45" ry="1.7" fill="#1212f8" stroke="#008" stroke-width="0.5"/>
<ellipse cx="219.9" cy="332.8" rx="2.45" ry="1.7" fill="#1212f8" stroke="#008" stroke-width="0.5"/>
<ellipse cx="218.9" cy="336.4" rx="2.45" ry="1.7" fill="#1212f8" stroke="#008" stroke-width="0.5"/>
<ellipse cx="219.9" cy="338.9" rx="2.45" ry="1.7" fill="#1212f8" stroke="#008" stroke-width="0.5"/>
<ellipse cx="225.5" cy="336.4" rx="2.45" ry="1.7" fill="#1212f8" stroke="#008" stroke-width="0.5"/>
<ellipse cx="227.6" cy="338.9" rx="2.45" ry="1.7" fill="#1212f8" stroke="#008" stroke-width="0.5"/>
<ellipse cx="232.2" cy="335.7" rx="2.45" ry="1.7" fill="#1212f8" stroke="#008" stroke-width="0.5"/>
<ellipse cx="230.7" cy="341.5" rx="2.45" ry="1.7" fill="#1212f8" stroke="#008" stroke-width="0.5"/>
<ellipse cx="220.0" cy="339.1" rx="2.45" ry="1.7" fill="#1212f8" stroke="#008" stroke-width="0.5"/>
<ellipse cx="228.2" cy="339.1" rx="2.45" ry="1.7" fill="#1212f8" stroke="#008" stroke-width="0.5"/>
<ellipse cx="230.8" cy="342.7" rx="2.45" ry="1.7" fill="#1212f8" stroke="#008" stroke-width="0.5"/>
<ellipse cx="218.5" cy="348.3" rx="2.45" ry="1.7" fill="#148a14" stroke="#064806" stroke-width="0.5"/>
<ellipse cx="232.6" cy="348.6" rx="2.45" ry="1.7" fill="#148a14" stroke="#064806" stroke-width="0.5"/>
<ellipse cx="234.6" cy="352.2" rx="2.45" ry="1.7" fill="#1212f8" stroke="#008" stroke-width="0.5"/>
<ellipse cx="250.7" cy="347.0" rx="2.45" ry="1.7" fill="#148a14" stroke="#064806" stroke-width="0.5"/>
<ellipse cx="205.7" cy="355.9" rx="2.45" ry="1.7" fill="#148a14" stroke="#064806" stroke-width="0.5"/>
<ellipse cx="222.6" cy="372.6" rx="2.45" ry="1.7" fill="#ff0000" stroke="#900" stroke-width="0.5"/>
<ellipse cx="195.5" cy="376.7" rx="2.45" ry="1.7" fill="#9c3ca6" stroke="#4a1a50" stroke-width="0.5"/>
<ellipse cx="227.0" cy="379.2" rx="2.45" ry="1.7" fill="#9c3ca6" stroke="#4a1a50" stroke-width="0.5"/>
<ellipse cx="24.4" cy="353.3" rx="2.45" ry="1.7" fill="#148a14" stroke="#064806" stroke-width="0.5"/>
<ellipse cx="30.4" cy="355.9" rx="2.45" ry="1.7" fill="#148a14" stroke="#064806" stroke-width="0.5"/>
<ellipse cx="43.6" cy="356.7" rx="2.45" ry="1.7" fill="#148a14" stroke="#064806" stroke-width="0.5"/>
<ellipse cx="44.5" cy="365.9" rx="2.45" ry="1.7" fill="#148a14" stroke="#064806" stroke-width="0.5"/>
<ellipse cx="65.6" cy="352.9" rx="2.45" ry="1.7" fill="#1212f8" stroke="#008" stroke-width="0.5"/>
<ellipse cx="69.7" cy="354.6" rx="2.45" ry="1.7" fill="#ff0000" stroke="#900" stroke-width="0.5"/>
<ellipse cx="67.1" cy="356.9" rx="2.45" ry="1.7" fill="#148a14" stroke="#064806" stroke-width="0.5"/>
<ellipse cx="72.0" cy="357.4" rx="2.45" ry="1.7" fill="#1212f8" stroke="#008" stroke-width="0.5"/>
<ellipse cx="81.4" cy="353.6" rx="2.45" ry="1.7" fill="#148a14" stroke="#064806" stroke-width="0.5"/>
<ellipse cx="95.3" cy="350.6" rx="2.45" ry="1.7" fill="#1212f8" stroke="#008" stroke-width="0.5"/>
<ellipse cx="100.4" cy="351.6" rx="2.45" ry="1.7" fill="#1212f8" stroke="#008" stroke-width="0.5"/>
<ellipse cx="105.5" cy="351.1" rx="2.45" ry="1.7" fill="#1212f8" stroke="#008" stroke-width="0.5"/>
<ellipse cx="109.6" cy="350.1" rx="2.45" ry="1.7" fill="#1212f8" stroke="#008" stroke-width="0.5"/>
<ellipse cx="113.7" cy="348.1" rx="2.45" ry="1.7" fill="#1212f8" stroke="#008" stroke-width="0.5"/>
<ellipse cx="93.3" cy="354.2" rx="2.45" ry="1.7" fill="#1212f8" stroke="#008" stroke-width="0.5"/>
<ellipse cx="94.8" cy="356.4" rx="2.45" ry="1.7" fill="#148a14" stroke="#064806" stroke-width="0.5"/>
<ellipse cx="100.4" cy="355.2" rx="2.45" ry="1.7" fill="#1212f8" stroke="#008" stroke-width="0.5"/>
<ellipse cx="105.5" cy="354.7" rx="2.45" ry="1.7" fill="#1212f8" stroke="#008" stroke-width="0.5"/>
<ellipse cx="110.7" cy="354.2" rx="2.45" ry="1.7" fill="#1212f8" stroke="#008" stroke-width="0.5"/>
<ellipse cx="114.2" cy="356.2" rx="2.45" ry="1.7" fill="#1212f8" stroke="#008" stroke-width="0.5"/>
<ellipse cx="117.8" cy="351.1" rx="2.45" ry="1.7" fill="#1212f8" stroke="#008" stroke-width="0.5"/>
<ellipse cx="100.4" cy="357.8" rx="2.45" ry="1.7" fill="#1212f8" stroke="#008" stroke-width="0.5"/>
<ellipse cx="103.5" cy="358.3" rx="2.45" ry="1.7" fill="#1212f8" stroke="#008" stroke-width="0.5"/>
<ellipse cx="94.3" cy="360.3" rx="2.45" ry="1.7" fill="#1212f8" stroke="#008" stroke-width="0.5"/>
<ellipse cx="91.2" cy="363.4" rx="2.45" ry="1.7" fill="#1212f8" stroke="#008" stroke-width="0.5"/>
<ellipse cx="95.3" cy="363.9" rx="2.45" ry="1.7" fill="#1212f8" stroke="#008" stroke-width="0.5"/>
<ellipse cx="89.2" cy="366.5" rx="2.45" ry="1.7" fill="#1212f8" stroke="#008" stroke-width="0.5"/>
<ellipse cx="93.3" cy="366.5" rx="2.45" ry="1.7" fill="#1212f8" stroke="#008" stroke-width="0.5"/>
<ellipse cx="88.7" cy="369.0" rx="2.45" ry="1.7" fill="#1212f8" stroke="#008" stroke-width="0.5"/>
<ellipse cx="92.3" cy="369.5" rx="2.45" ry="1.7" fill="#1212f8" stroke="#008" stroke-width="0.5"/>
<ellipse cx="96.9" cy="369.3" rx="2.45" ry="1.7" fill="#1212f8" stroke="#008" stroke-width="0.5"/>
<ellipse cx="140.1" cy="355.2" rx="2.45" ry="1.7" fill="#148a14" stroke="#064806" stroke-width="0.5"/>
<ellipse cx="146.9" cy="357.3" rx="2.45" ry="1.7" fill="#148a14" stroke="#064806" stroke-width="0.5"/>
<ellipse cx="138.8" cy="362.4" rx="2.45" ry="1.7" fill="#148a14" stroke="#064806" stroke-width="0.5"/>
<ellipse cx="142.8" cy="361.4" rx="2.45" ry="1.7" fill="#148a14" stroke="#064806" stroke-width="0.5"/>
<ellipse cx="146.4" cy="362.9" rx="2.45" ry="1.7" fill="#148a14" stroke="#064806" stroke-width="0.5"/>
<ellipse cx="148.5" cy="367.5" rx="2.45" ry="1.7" fill="#148a14" stroke="#064806" stroke-width="0.5"/>
<ellipse cx="126.2" cy="371.8" rx="2.45" ry="1.7" fill="#f68a1e" stroke="#8a4a08" stroke-width="0.5"/>
<ellipse cx="92.8" cy="373.1" rx="2.45" ry="1.7" fill="#148a14" stroke="#064806" stroke-width="0.5"/>
<ellipse cx="143.4" cy="370.5" rx="2.45" ry="1.7" fill="#148a14" stroke="#064806" stroke-width="0.5"/>
<ellipse cx="144.4" cy="374.1" rx="2.45" ry="1.7" fill="#148a14" stroke="#064806" stroke-width="0.5"/>
<ellipse cx="148.5" cy="373.6" rx="2.45" ry="1.7" fill="#9c3ca6" stroke="#4a1a50" stroke-width="0.5"/>
<ellipse cx="142.3" cy="376.9" rx="2.45" ry="1.7" fill="#148a14" stroke="#064806" stroke-width="0.5"/>
<ellipse cx="147.4" cy="376.2" rx="2.45" ry="1.7" fill="#148a14" stroke="#064806" stroke-width="0.5"/>
<ellipse cx="149.5" cy="380.3" rx="2.45" ry="1.7" fill="#148a14" stroke="#064806" stroke-width="0.5"/>
<ellipse cx="141.8" cy="384.3" rx="2.45" ry="1.7" fill="#148a14" stroke="#064806" stroke-width="0.5"/>
<ellipse cx="148.0" cy="386.9" rx="2.45" ry="1.7" fill="#148a14" stroke="#064806" stroke-width="0.5"/>
<ellipse cx="96.9" cy="377.7" rx="2.45" ry="1.7" fill="#148a14" stroke="#064806" stroke-width="0.5"/>
<ellipse cx="103.0" cy="374.8" rx="2.45" ry="1.7" fill="#148a14" stroke="#064806" stroke-width="0.5"/>
<ellipse cx="99.9" cy="377.5" rx="2.45" ry="1.7" fill="#148a14" stroke="#064806" stroke-width="0.5"/>
<ellipse cx="104.5" cy="377.9" rx="2.45" ry="1.7" fill="#1212f8" stroke="#008" stroke-width="0.5"/>
<ellipse cx="109.1" cy="377.7" rx="2.45" ry="1.7" fill="#f68a1e" stroke="#8a4a08" stroke-width="0.5"/>
<ellipse cx="112.7" cy="378.5" rx="2.45" ry="1.7" fill="#148a14" stroke="#064806" stroke-width="0.5"/>
<ellipse cx="101.5" cy="381.0" rx="2.45" ry="1.7" fill="#148a14" stroke="#064806" stroke-width="0.5"/>
<ellipse cx="103.0" cy="384.9" rx="2.45" ry="1.7" fill="#148a14" stroke="#064806" stroke-width="0.5"/>
<ellipse cx="97.4" cy="383.8" rx="2.45" ry="1.7" fill="#148a14" stroke="#064806" stroke-width="0.5"/>
<ellipse cx="93.3" cy="384.3" rx="2.45" ry="1.7" fill="#148a14" stroke="#064806" stroke-width="0.5"/>
<ellipse cx="88.2" cy="385.9" rx="2.45" ry="1.7" fill="#148a14" stroke="#064806" stroke-width="0.5"/>
<ellipse cx="90.2" cy="386.9" rx="2.45" ry="1.7" fill="#148a14" stroke="#064806" stroke-width="0.5"/>
<ellipse cx="96.3" cy="386.9" rx="2.45" ry="1.7" fill="#148a14" stroke="#064806" stroke-width="0.5"/>
<ellipse cx="99.4" cy="388.9" rx="2.45" ry="1.7" fill="#148a14" stroke="#064806" stroke-width="0.5"/>
<ellipse cx="89.7" cy="390.5" rx="2.45" ry="1.7" fill="#148a14" stroke="#064806" stroke-width="0.5"/>
<ellipse cx="92.8" cy="390.5" rx="2.45" ry="1.7" fill="#148a14" stroke="#064806" stroke-width="0.5"/>
<ellipse cx="107.6" cy="390.0" rx="2.45" ry="1.7" fill="#9c3ca6" stroke="#4a1a50" stroke-width="0.5"/>
<ellipse cx="116.3" cy="391.2" rx="2.45" ry="1.7" fill="#148a14" stroke="#064806" stroke-width="0.5"/>
<ellipse cx="185.5" cy="355.4" rx="2.45" ry="1.7" fill="#9c3ca6" stroke="#4a1a50" stroke-width="0.5"/>
<ellipse cx="185.5" cy="357.4" rx="2.45" ry="1.7" fill="#148a14" stroke="#064806" stroke-width="0.5"/>
<ellipse cx="155.8" cy="359.2" rx="2.45" ry="1.7" fill="#148a14" stroke="#064806" stroke-width="0.5"/>
<ellipse cx="154.3" cy="361.3" rx="2.45" ry="1.7" fill="#148a14" stroke="#064806" stroke-width="0.5"/>
<ellipse cx="160.4" cy="358.2" rx="2.45" ry="1.7" fill="#1212f8" stroke="#008" stroke-width="0.5"/>
<ellipse cx="165.5" cy="357.2" rx="2.45" ry="1.7" fill="#148a14" stroke="#064806" stroke-width="0.5"/>
<ellipse cx="164.3" cy="361.8" rx="2.45" ry="1.7" fill="#148a14" stroke="#064806" stroke-width="0.5"/>
<ellipse cx="174.5" cy="359.4" rx="2.45" ry="1.7" fill="#ff0000" stroke="#900" stroke-width="0.5"/>
<ellipse cx="170.1" cy="364.9" rx="2.45" ry="1.7" fill="#ff0000" stroke="#900" stroke-width="0.5"/>
<ellipse cx="172.9" cy="363.5" rx="2.45" ry="1.7" fill="#148a14" stroke="#064806" stroke-width="0.5"/>
<ellipse cx="186.5" cy="365.2" rx="2.45" ry="1.7" fill="#ff0000" stroke="#900" stroke-width="0.5"/>
<ellipse cx="181.9" cy="367.4" rx="2.45" ry="1.7" fill="#ff0000" stroke="#900" stroke-width="0.5"/>
<ellipse cx="182.9" cy="369.0" rx="2.45" ry="1.7" fill="#148a14" stroke="#064806" stroke-width="0.5"/>
<ellipse cx="188.2" cy="370.7" rx="2.45" ry="1.7" fill="#148a14" stroke="#064806" stroke-width="0.5"/>
<ellipse cx="149.7" cy="368.2" rx="2.45" ry="1.7" fill="#ff0000" stroke="#900" stroke-width="0.5"/>
<ellipse cx="148.7" cy="367.4" rx="2.45" ry="1.7" fill="#148a14" stroke="#064806" stroke-width="0.5"/>
<ellipse cx="163.5" cy="369.0" rx="2.45" ry="1.7" fill="#148a14" stroke="#064806" stroke-width="0.5"/>
<ellipse cx="168.1" cy="369.5" rx="2.45" ry="1.7" fill="#148a14" stroke="#064806" stroke-width="0.5"/>
<ellipse cx="173.2" cy="369.0" rx="2.45" ry="1.7" fill="#9c3ca6" stroke="#4a1a50" stroke-width="0.5"/>
<ellipse cx="156.4" cy="371.7" rx="2.45" ry="1.7" fill="#148a14" stroke="#064806" stroke-width="0.5"/>
<ellipse cx="152.1" cy="373.0" rx="2.45" ry="1.7" fill="#148a14" stroke="#064806" stroke-width="0.5"/>
<ellipse cx="179.0" cy="373.5" rx="2.45" ry="1.7" fill="#148a14" stroke="#064806" stroke-width="0.5"/>
<ellipse cx="182.9" cy="375.1" rx="2.45" ry="1.7" fill="#9c3ca6" stroke="#4a1a50" stroke-width="0.5"/>
<ellipse cx="194.2" cy="376.6" rx="2.45" ry="1.7" fill="#9c3ca6" stroke="#4a1a50" stroke-width="0.5"/>
<ellipse cx="176.6" cy="377.6" rx="2.45" ry="1.7" fill="#148a14" stroke="#064806" stroke-width="0.5"/>
<ellipse cx="159.4" cy="377.9" rx="2.45" ry="1.7" fill="#1212f8" stroke="#008" stroke-width="0.5"/>
<ellipse cx="168.6" cy="379.2" rx="2.45" ry="1.7" fill="#148a14" stroke="#064806" stroke-width="0.5"/>
<ellipse cx="150.2" cy="380.7" rx="2.45" ry="1.7" fill="#148a14" stroke="#064806" stroke-width="0.5"/>
<ellipse cx="230.8" cy="384.8" rx="2.45" ry="1.7" fill="#ff0000" stroke="#900" stroke-width="0.5"/>
<ellipse cx="239.1" cy="394.1" rx="2.45" ry="1.7" fill="#9c3ca6" stroke="#4a1a50" stroke-width="0.5"/>
<ellipse cx="225.1" cy="407.6" rx="2.45" ry="1.7" fill="#ff0000" stroke="#900" stroke-width="0.5"/>
<ellipse cx="226.5" cy="411.2" rx="2.45" ry="1.7" fill="#ff0000" stroke="#900" stroke-width="0.5"/>
<ellipse cx="155.2" cy="394.5" rx="2.45" ry="1.7" fill="#1212f8" stroke="#008" stroke-width="0.5"/>
<ellipse cx="156.1" cy="397.7" rx="2.45" ry="1.7" fill="#1212f8" stroke="#008" stroke-width="0.5"/>
<ellipse cx="147.5" cy="398.7" rx="2.45" ry="1.7" fill="#ff0000" stroke="#900" stroke-width="0.5"/>
<ellipse cx="164.5" cy="397.5" rx="2.45" ry="1.7" fill="#148a14" stroke="#064806" stroke-width="0.5"/>
<ellipse cx="170.7" cy="397.1" rx="2.45" ry="1.7" fill="#148a14" stroke="#064806" stroke-width="0.5"/>
<ellipse cx="189.7" cy="421.0" rx="2.45" ry="1.7" fill="#ff0000" stroke="#900" stroke-width="0.5"/>
<ellipse cx="165.8" cy="432.4" rx="2.45" ry="1.7" fill="#9c3ca6" stroke="#4a1a50" stroke-width="0.5"/>
<ellipse cx="167.1" cy="431.6" rx="2.45" ry="1.7" fill="#9c3ca6" stroke="#4a1a50" stroke-width="0.5"/>
<ellipse cx="173.8" cy="439.7" rx="2.45" ry="1.7" fill="#9c3ca6" stroke="#4a1a50" stroke-width="0.5"/>
<ellipse cx="174.9" cy="441.9" rx="2.45" ry="1.7" fill="#ff0000" stroke="#900" stroke-width="0.5"/>
<ellipse cx="176.2" cy="444.5" rx="2.45" ry="1.7" fill="#ff0000" stroke="#900" stroke-width="0.5"/>
<ellipse cx="171.6" cy="445.8" rx="2.45" ry="1.7" fill="#9c3ca6" stroke="#4a1a50" stroke-width="0.5"/>
<ellipse cx="172.3" cy="446.8" rx="2.45" ry="1.7" fill="#ff0000" stroke="#900" stroke-width="0.5"/>
<ellipse cx="89.4" cy="406.9" rx="2.45" ry="1.7" fill="#ff0000" stroke="#900" stroke-width="0.5"/>
<ellipse cx="136.8" cy="396.6" rx="2.45" ry="1.7" fill="#9c3ca6" stroke="#4a1a50" stroke-width="0.5"/>
<ellipse cx="379.6" cy="307.9" rx="2.8" ry="2.8" fill="#1212f8" stroke="#008" stroke-width="0.5"/>
<ellipse cx="380.51" cy="308.35" rx="2.8" ry="2.8" fill="#1212f8" stroke="#008" stroke-width="0.5"/>
<ellipse cx="381.42" cy="308.8" rx="2.8" ry="2.8" fill="#1212f8" stroke="#008" stroke-width="0.5"/>
<ellipse cx="382.33" cy="309.25" rx="2.8" ry="2.8" fill="#1212f8" stroke="#008" stroke-width="0.5"/>
<ellipse cx="383.24" cy="309.7" rx="2.8" ry="2.8" fill="#1212f8" stroke="#008" stroke-width="0.5"/>
<ellipse cx="384.15" cy="310.15" rx="2.8" ry="2.8" fill="#1212f8" stroke="#008" stroke-width="0.5"/>
<ellipse cx="385.06" cy="310.6" rx="2.8" ry="2.8" fill="#1212f8" stroke="#008" stroke-width="0.5"/>
<ellipse cx="385.97" cy="311.05" rx="2.8" ry="2.8" fill="#1212f8" stroke="#008" stroke-width="0.5"/>
<ellipse cx="386.88" cy="311.5" rx="2.8" ry="2.8" fill="#1212f8" stroke="#008" stroke-width="0.5"/>
<ellipse cx="387.79" cy="311.95" rx="2.8" ry="2.8" fill="#1212f8" stroke="#008" stroke-width="0.5"/>
<ellipse cx="388.7" cy="312.4" rx="2.8" ry="2.8" fill="#1212f8" stroke="#008" stroke-width="0.5"/>
<ellipse cx="389.61" cy="312.85" rx="2.8" ry="2.8" fill="#1212f8" stroke="#008" stroke-width="0.5"/>
<ellipse cx="390.52" cy="313.3" rx="2.8" ry="2.8" fill="#1212f8" stroke="#008" stroke-width="0.5"/>
<ellipse cx="391.43" cy="313.75" rx="2.8" ry="2.8" fill="#1212f8" stroke="#008" stroke-width="0.5"/>
<ellipse cx="392.34" cy="314.2" rx="2.8" ry="2.8" fill="#1212f8" stroke="#008" stroke-width="0.5"/>
<ellipse cx="393.25" cy="314.65" rx="2.8" ry="2.8" fill="#1212f8" stroke="#008" stroke-width="0.5"/>
<ellipse cx="394.16" cy="315.1" rx="2.8" ry="2.8" fill="#1212f8" stroke="#008" stroke-width="0.5"/>
<ellipse cx="395.07" cy="315.55" rx="2.8" ry="2.8" fill="#1212f8" stroke="#008" stroke-width="0.5"/>
<ellipse cx="395.98" cy="316.0" rx="2.8" ry="2.8" fill="#1212f8" stroke="#008" stroke-width="0.5"/>
<ellipse cx="396.89" cy="316.45" rx="2.8" ry="2.8" fill="#1212f8" stroke="#008" stroke-width="0.5"/>
<ellipse cx="397.8" cy="316.9" rx="2.8" ry="2.8" fill="#1212f8" stroke="#008" stroke-width="0.5"/>
<ellipse cx="398.71" cy="317.35" rx="2.8" ry="2.8" fill="#1212f8" stroke="#008" stroke-width="0.5"/>
<ellipse cx="399.62" cy="317.8" rx="2.8" ry="2.8" fill="#1212f8" stroke="#008" stroke-width="0.5"/>
<ellipse cx="400.53" cy="318.25" rx="2.8" ry="2.8" fill="#1212f8" stroke="#008" stroke-width="0.5"/>
<ellipse cx="401.44" cy="318.7" rx="2.8" ry="2.8" fill="#1212f8" stroke="#008" stroke-width="0.5"/>
<ellipse cx="402.35" cy="319.15" rx="2.8" ry="2.8" fill="#1212f8" stroke="#008" stroke-width="0.5"/>
<ellipse cx="403.26" cy="319.6" rx="2.8" ry="2.8" fill="#1212f8" stroke="#008" stroke-width="0.5"/>
<ellipse cx="404.17" cy="320.05" rx="2.8" ry="2.8" fill="#1212f8" stroke="#008" stroke-width="0.5"/>
<ellipse cx="405.08" cy="320.5" rx="2.8" ry="2.8" fill="#1212f8" stroke="#008" stroke-width="0.5"/>
<ellipse cx="405.99" cy="320.95" rx="2.8" ry="2.8" fill="#1212f8" stroke="#008" stroke-width="0.5"/>
<ellipse cx="406.9" cy="321.4" rx="2.8" ry="2.8" fill="#1212f8" stroke="#008" stroke-width="0.5"/>
<ellipse cx="407.81" cy="321.85" rx="2.8" ry="2.8" fill="#1212f8" stroke="#008" stroke-width="0.5"/>
<ellipse cx="408.72" cy="322.3" rx="2.8" ry="2.8" fill="#1212f8" stroke="#008" stroke-width="0.5"/>
<ellipse cx="409.63" cy="322.75" rx="2.8" ry="2.8" fill="#1212f8" stroke="#008" stroke-width="0.5"/>
<ellipse cx="410.54" cy="323.2" rx="2.8" ry="2.8" fill="#1212f8" stroke="#008" stroke-width="0.5"/>
<ellipse cx="411.45" cy="323.65" rx="2.8" ry="2.8" fill="#1212f8" stroke="#008" stroke-width="0.5"/>
<ellipse cx="412.36" cy="324.1" rx="2.8" ry="2.8" fill="#1212f8" stroke="#008" stroke-width="0.5"/>
<ellipse cx="413.27" cy="324.55" rx="2.8" ry="2.8" fill="#1212f8" stroke="#008" stroke-width="0.5"/>
<ellipse cx="414.18" cy="325.0" rx="2.8" ry="2.8" fill="#1212f8" stroke="#008" stroke-width="0.5"/>
<ellipse cx="415.09" cy="325.45" rx="2.8" ry="2.8" fill="#1212f8" stroke="#008" stroke-width="0.5"/>
<ellipse cx="416.0" cy="325.9" rx="2.8" ry="2.8" fill="#1212f8" stroke="#008" stroke-width="0.5"/>
<ellipse cx="416.91" cy="326.35" rx="2.8" ry="2.8" fill="#1212f8" stroke="#008" stroke-width="0.5"/>
<ellipse cx="417.82" cy="326.8" rx="2.8" ry="2.8" fill="#1212f8" stroke="#008" stroke-width="0.5"/>
<ellipse cx="418.73" cy="327.25" rx="2.8" ry="2.8" fill="#1212f8" stroke="#008" stroke-width="0.5"/>
<ellipse cx="419.64" cy="327.7" rx="2.8" ry="2.8" fill="#1212f8" stroke="#008" stroke-width="0.5"/>
<ellipse cx="420.55" cy="328.15" rx="2.8" ry="2.8" fill="#1212f8" stroke="#008" stroke-width="0.5"/>
<ellipse cx="421.46" cy="328.6" rx="2.8" ry="2.8" fill="#1212f8" stroke="#008" stroke-width="0.5"/>
<ellipse cx="422.37" cy="329.05" rx="2.8" ry="2.8" fill="#1212f8" stroke="#008" stroke-width="0.5"/>
<ellipse cx="423.28" cy="329.5" rx="2.8" ry="2.8" fill="#1212f8" stroke="#008" stroke-width="0.5"/>
<ellipse cx="424.19" cy="329.95" rx="2.8" ry="2.8" fill="#1212f8" stroke="#008" stroke-width="0.5"/>
<ellipse cx="425.1" cy="330.4" rx="2.8" ry="2.8" fill="#1212f8" stroke="#008" stroke-width="0.5"/>
<ellipse cx="426.01" cy="330.85" rx="2.8" ry="2.8" fill="#1212f8" stroke="#008" stroke-width="0.5"/>
<ellipse cx="426.92" cy="331.3" rx="2.8" ry="2.8" fill="#1212f8" stroke="#008" stroke-width="0.5"/>
<ellipse cx="427.83" cy="331.75" rx="2.8" ry="2.8" fill="#1212f8" stroke="#008" stroke-width="0.5"/>
<ellipse cx="428.74" cy="332.2" rx="2.8" ry="2.8" fill="#1212f8" stroke="#008" stroke-width="0.5"/>
<ellipse cx="429.65" cy="332.65" rx="2.8" ry="2.8" fill="#1212f8" stroke="#008" stroke-width="0.5"/>
<ellipse cx="430.56" cy="333.1" rx="2.8" ry="2.8" fill="#1212f8" stroke="#008" stroke-width="0.5"/>
<ellipse cx="431.47" cy="333.55" rx="2.8" ry="2.8" fill="#1212f8" stroke="#008" stroke-width="0.5"/>
<ellipse cx="432.38" cy="334.0" rx="2.8" ry="2.8" fill="#1212f8" stroke="#008" stroke-width="0.5"/>
<ellipse cx="433.29" cy="334.45" rx="2.8" ry="2.8" fill="#1212f8" stroke="#008" stroke-width="0.5"/>
<ellipse cx="434.2" cy="334.9" rx="2.8" ry="2.8" fill="#1212f8" stroke="#008" stroke-width="0.5"/>
<ellipse cx="441.0" cy="338.8" rx="2.4" ry="2.4" fill="#1212f8" stroke="#008" stroke-width="0.5"/>
<ellipse cx="447.1" cy="341.8" rx="2.4" ry="2.4" fill="#1212f8" stroke="#008" stroke-width="0.5"/>
<ellipse cx="451.0" cy="343.5" rx="2.4" ry="2.4" fill="#1212f8" stroke="#008" stroke-width="0.5"/>
<ellipse cx="608.9" cy="266.6" rx="2.8" ry="2.8" fill="#1212f8" stroke="#008" stroke-width="0.5"/>
<ellipse cx="608.32" cy="267.44" rx="2.8" ry="2.8" fill="#1212f8" stroke="#008" stroke-width="0.5"/>
<ellipse cx="607.75" cy="268.29" rx="2.8" ry="2.8" fill="#1212f8" stroke="#008" stroke-width="0.5"/>
<ellipse cx="607.17" cy="269.13" rx="2.8" ry="2.8" fill="#1212f8" stroke="#008" stroke-width="0.5"/>
<ellipse cx="606.6" cy="269.97" rx="2.8" ry="2.8" fill="#1212f8" stroke="#008" stroke-width="0.5"/>
<ellipse cx="606.02" cy="270.82" rx="2.8" ry="2.8" fill="#1212f8" stroke="#008" stroke-width="0.5"/>
<ellipse cx="605.45" cy="271.66" rx="2.8" ry="2.8" fill="#1212f8" stroke="#008" stroke-width="0.5"/>
<ellipse cx="604.88" cy="272.5" rx="2.8" ry="2.8" fill="#1212f8" stroke="#008" stroke-width="0.5"/>
<ellipse cx="604.3" cy="273.35" rx="2.8" ry="2.8" fill="#1212f8" stroke="#008" stroke-width="0.5"/>
<ellipse cx="603.73" cy="274.19" rx="2.8" ry="2.8" fill="#1212f8" stroke="#008" stroke-width="0.5"/>
<ellipse cx="603.15" cy="275.03" rx="2.8" ry="2.8" fill="#1212f8" stroke="#008" stroke-width="0.5"/>
<ellipse cx="602.58" cy="275.88" rx="2.8" ry="2.8" fill="#1212f8" stroke="#008" stroke-width="0.5"/>
<ellipse cx="602.0" cy="276.72" rx="2.8" ry="2.8" fill="#1212f8" stroke="#008" stroke-width="0.5"/>
<ellipse cx="601.42" cy="277.56" rx="2.8" ry="2.8" fill="#1212f8" stroke="#008" stroke-width="0.5"/>
<ellipse cx="600.85" cy="278.4" rx="2.8" ry="2.8" fill="#1212f8" stroke="#008" stroke-width="0.5"/>
<ellipse cx="600.27" cy="279.25" rx="2.8" ry="2.8" fill="#1212f8" stroke="#008" stroke-width="0.5"/>
<ellipse cx="599.7" cy="280.09" rx="2.8" ry="2.8" fill="#1212f8" stroke="#008" stroke-width="0.5"/>
<ellipse cx="599.12" cy="280.93" rx="2.8" ry="2.8" fill="#1212f8" stroke="#008" stroke-width="0.5"/>
<ellipse cx="598.55" cy="281.78" rx="2.8" ry="2.8" fill="#1212f8" stroke="#008" stroke-width="0.5"/>
<ellipse cx="597.98" cy="282.62" rx="2.8" ry="2.8" fill="#1212f8" stroke="#008" stroke-width="0.5"/>
<ellipse cx="597.4" cy="283.46" rx="2.8" ry="2.8" fill="#1212f8" stroke="#008" stroke-width="0.5"/>
<ellipse cx="596.83" cy="284.31" rx="2.8" ry="2.8" fill="#1212f8" stroke="#008" stroke-width="0.5"/>
<ellipse cx="596.25" cy="285.15" rx="2.8" ry="2.8" fill="#1212f8" stroke="#008" stroke-width="0.5"/>
<ellipse cx="595.67" cy="285.99" rx="2.8" ry="2.8" fill="#1212f8" stroke="#008" stroke-width="0.5"/>
<ellipse cx="595.1" cy="286.84" rx="2.8" ry="2.8" fill="#1212f8" stroke="#008" stroke-width="0.5"/>
<ellipse cx="594.52" cy="287.68" rx="2.8" ry="2.8" fill="#1212f8" stroke="#008" stroke-width="0.5"/>
<ellipse cx="593.95" cy="288.52" rx="2.8" ry="2.8" fill="#1212f8" stroke="#008" stroke-width="0.5"/>
<ellipse cx="593.38" cy="289.37" rx="2.8" ry="2.8" fill="#1212f8" stroke="#008" stroke-width="0.5"/>
<ellipse cx="592.8" cy="290.21" rx="2.8" ry="2.8" fill="#1212f8" stroke="#008" stroke-width="0.5"/>
<ellipse cx="592.23" cy="291.05" rx="2.8" ry="2.8" fill="#1212f8" stroke="#008" stroke-width="0.5"/>
<ellipse cx="591.65" cy="291.9" rx="2.8" ry="2.8" fill="#1212f8" stroke="#008" stroke-width="0.5"/>
<ellipse cx="591.08" cy="292.74" rx="2.8" ry="2.8" fill="#1212f8" stroke="#008" stroke-width="0.5"/>
<ellipse cx="590.5" cy="293.58" rx="2.8" ry="2.8" fill="#1212f8" stroke="#008" stroke-width="0.5"/>
<ellipse cx="589.92" cy="294.43" rx="2.8" ry="2.8" fill="#1212f8" stroke="#008" stroke-width="0.5"/>
<ellipse cx="589.35" cy="295.27" rx="2.8" ry="2.8" fill="#1212f8" stroke="#008" stroke-width="0.5"/>
<ellipse cx="588.77" cy="296.11" rx="2.8" ry="2.8" fill="#1212f8" stroke="#008" stroke-width="0.5"/>
<ellipse cx="588.2" cy="296.95" rx="2.8" ry="2.8" fill="#1212f8" stroke="#008" stroke-width="0.5"/>
<ellipse cx="587.62" cy="297.8" rx="2.8" ry="2.8" fill="#1212f8" stroke="#008" stroke-width="0.5"/>
<ellipse cx="587.05" cy="298.64" rx="2.8" ry="2.8" fill="#1212f8" stroke="#008" stroke-width="0.5"/>
<ellipse cx="586.48" cy="299.48" rx="2.8" ry="2.8" fill="#1212f8" stroke="#008" stroke-width="0.5"/>
<ellipse cx="585.9" cy="300.33" rx="2.8" ry="2.8" fill="#1212f8" stroke="#008" stroke-width="0.5"/>
<ellipse cx="585.33" cy="301.17" rx="2.8" ry="2.8" fill="#1212f8" stroke="#008" stroke-width="0.5"/>
<ellipse cx="584.75" cy="302.01" rx="2.8" ry="2.8" fill="#1212f8" stroke="#008" stroke-width="0.5"/>
<ellipse cx="584.18" cy="302.86" rx="2.8" ry="2.8" fill="#1212f8" stroke="#008" stroke-width="0.5"/>
<ellipse cx="583.6" cy="303.7" rx="2.8" ry="2.8" fill="#1212f8" stroke="#008" stroke-width="0.5"/>
<ellipse cx="612.8" cy="261.0" rx="2.4" ry="2.4" fill="#1212f8" stroke="#008" stroke-width="0.5"/>
<ellipse cx="579.0" cy="309.5" rx="2.4" ry="2.4" fill="#1212f8" stroke="#008" stroke-width="0.5"/>
<ellipse cx="573.2" cy="318.2" rx="2.4" ry="2.4" fill="#1212f8" stroke="#008" stroke-width="0.5"/>
<ellipse cx="567.3" cy="325.6" rx="2.4" ry="2.4" fill="#1212f8" stroke="#008" stroke-width="0.5"/>
<ellipse cx="538.9" cy="448.7" rx="2.5" ry="2.5" fill="#1212f8" stroke="#008" stroke-width="0.5"/>
<ellipse cx="538.74" cy="447.7" rx="2.5" ry="2.5" fill="#1212f8" stroke="#008" stroke-width="0.5"/>
<ellipse cx="538.59" cy="446.69" rx="2.5" ry="2.5" fill="#1212f8" stroke="#008" stroke-width="0.5"/>
<ellipse cx="538.43" cy="445.69" rx="2.5" ry="2.5" fill="#1212f8" stroke="#008" stroke-width="0.5"/>
<ellipse cx="538.28" cy="444.68" rx="2.5" ry="2.5" fill="#1212f8" stroke="#008" stroke-width="0.5"/>
<ellipse cx="538.12" cy="443.68" rx="2.5" ry="2.5" fill="#1212f8" stroke="#008" stroke-width="0.5"/>
<ellipse cx="537.96" cy="442.68" rx="2.5" ry="2.5" fill="#1212f8" stroke="#008" stroke-width="0.5"/>
<ellipse cx="537.81" cy="441.67" rx="2.5" ry="2.5" fill="#1212f8" stroke="#008" stroke-width="0.5"/>
<ellipse cx="537.65" cy="440.67" rx="2.5" ry="2.5" fill="#1212f8" stroke="#008" stroke-width="0.5"/>
<ellipse cx="537.5" cy="439.66" rx="2.5" ry="2.5" fill="#1212f8" stroke="#008" stroke-width="0.5"/>
<ellipse cx="537.34" cy="438.66" rx="2.5" ry="2.5" fill="#1212f8" stroke="#008" stroke-width="0.5"/>
<ellipse cx="537.18" cy="437.66" rx="2.5" ry="2.5" fill="#1212f8" stroke="#008" stroke-width="0.5"/>
<ellipse cx="537.03" cy="436.65" rx="2.5" ry="2.5" fill="#1212f8" stroke="#008" stroke-width="0.5"/>
<ellipse cx="536.87" cy="435.65" rx="2.5" ry="2.5" fill="#1212f8" stroke="#008" stroke-width="0.5"/>
<ellipse cx="536.72" cy="434.64" rx="2.5" ry="2.5" fill="#1212f8" stroke="#008" stroke-width="0.5"/>
<ellipse cx="536.56" cy="433.64" rx="2.5" ry="2.5" fill="#1212f8" stroke="#008" stroke-width="0.5"/>
<ellipse cx="536.4" cy="432.64" rx="2.5" ry="2.5" fill="#1212f8" stroke="#008" stroke-width="0.5"/>
<ellipse cx="536.25" cy="431.63" rx="2.5" ry="2.5" fill="#1212f8" stroke="#008" stroke-width="0.5"/>
<ellipse cx="536.09" cy="430.63" rx="2.5" ry="2.5" fill="#1212f8" stroke="#008" stroke-width="0.5"/>
<ellipse cx="535.94" cy="429.62" rx="2.5" ry="2.5" fill="#1212f8" stroke="#008" stroke-width="0.5"/>
<ellipse cx="535.78" cy="428.62" rx="2.5" ry="2.5" fill="#1212f8" stroke="#008" stroke-width="0.5"/>
<ellipse cx="535.62" cy="427.62" rx="2.5" ry="2.5" fill="#1212f8" stroke="#008" stroke-width="0.5"/>
<ellipse cx="535.47" cy="426.61" rx="2.5" ry="2.5" fill="#1212f8" stroke="#008" stroke-width="0.5"/>
<ellipse cx="535.31" cy="425.61" rx="2.5" ry="2.5" fill="#1212f8" stroke="#008" stroke-width="0.5"/>
<ellipse cx="535.16" cy="424.6" rx="2.5" ry="2.5" fill="#1212f8" stroke="#008" stroke-width="0.5"/>
<ellipse cx="535.0" cy="423.6" rx="2.5" ry="2.5" fill="#1212f8" stroke="#008" stroke-width="0.5"/>
<ellipse cx="536.6" cy="419.9" rx="2.4" ry="2.4" fill="#148a14" stroke="#064806" stroke-width="0.5"/>
<ellipse cx="532.6" cy="403.6" rx="2.4" ry="2.4" fill="#148a14" stroke="#064806" stroke-width="0.5"/>
<ellipse cx="534.0" cy="418.7" rx="2.4" ry="2.4" fill="#1212f8" stroke="#008" stroke-width="0.5"/>
<ellipse cx="533.9" cy="417.6" rx="2.4" ry="2.4" fill="#1212f8" stroke="#008" stroke-width="0.5"/>
<ellipse cx="534.4" cy="413.7" rx="2.4" ry="2.4" fill="#ff0000" stroke="#900" stroke-width="0.5"/>
<ellipse cx="533.9" cy="410.8" rx="2.4" ry="2.4" fill="#f68a1e" stroke="#8a4a08" stroke-width="0.5"/>
<ellipse cx="532.9" cy="406.0" rx="2.4" ry="2.4" fill="#ff0000" stroke="#900" stroke-width="0.5"/>
<ellipse cx="531.6" cy="399.7" rx="2.4" ry="2.4" fill="#ff0000" stroke="#900" stroke-width="0.5"/>
<ellipse cx="531.0" cy="395.3" rx="2.4" ry="2.4" fill="#1212f8" stroke="#008" stroke-width="0.5"/>
<ellipse cx="530.5" cy="393.4" rx="2.4" ry="2.4" fill="#f68a1e" stroke="#8a4a08" stroke-width="0.5"/>
<ellipse cx="529.5" cy="391.5" rx="2.4" ry="2.4" fill="#1212f8" stroke="#008" stroke-width="0.5"/>
<ellipse cx="530.0" cy="389.5" rx="2.4" ry="2.4" fill="#148a14" stroke="#064806" stroke-width="0.5"/>
<ellipse cx="529.5" cy="387.6" rx="2.4" ry="2.4" fill="#148a14" stroke="#064806" stroke-width="0.5"/>
<ellipse cx="529.0" cy="385.6" rx="2.4" ry="2.4" fill="#f68a1e" stroke="#8a4a08" stroke-width="0.5"/>
<ellipse cx="528.6" cy="383.7" rx="2.4" ry="2.4" fill="#148a14" stroke="#064806" stroke-width="0.5"/>
<ellipse cx="528.4" cy="382.0" rx="2.4" ry="2.4" fill="#148a14" stroke="#064806" stroke-width="0.5"/>
</svg></body></html>
